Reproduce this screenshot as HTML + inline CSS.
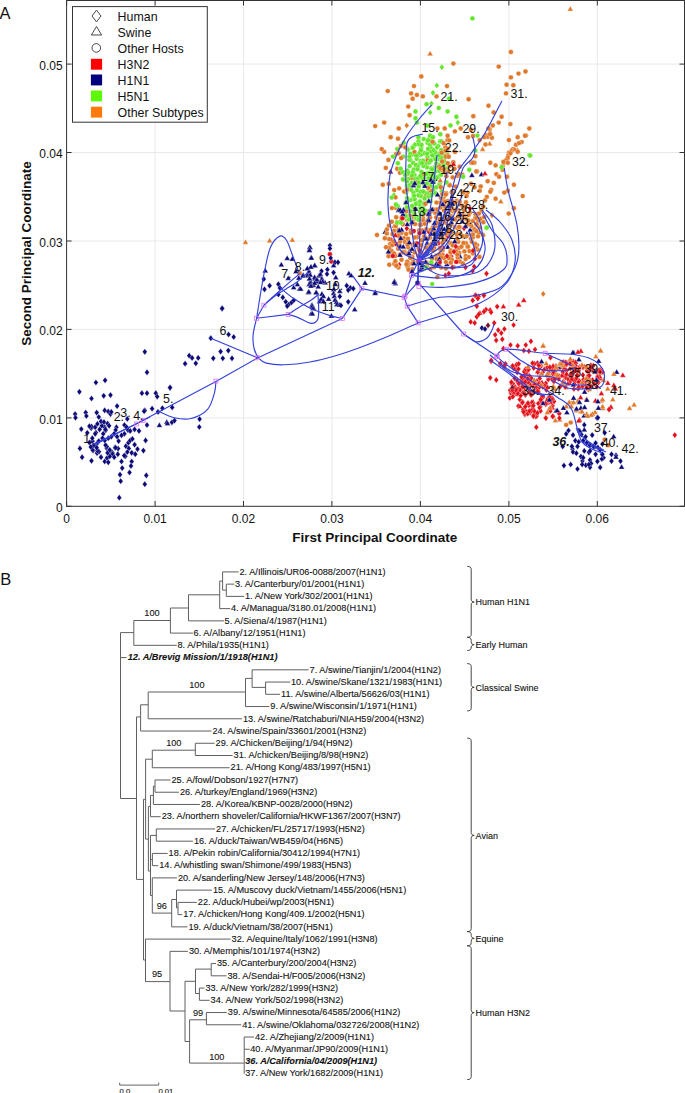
<!DOCTYPE html>
<html><head><meta charset="utf-8"><style>
html,body{margin:0;padding:0;background:#fff;}
svg{display:block;}
text{font-family:"Liberation Sans",sans-serif;fill:#111;}
.tk text{font-size:12px;}
.lg text{font-size:12.4px;}
.tr text{font-size:9.2px;fill:#111;stroke:#111;stroke-width:0.1px;}
.tr text.bi{font-weight:bold;font-style:italic;font-size:9.2px;}
.tr text.gl{font-size:9px;}
.tr text.sb{font-size:7.7px;}
.g{stroke:#e6e6e6;stroke-width:0.9;}
.nl text{font-size:12.4px;}
.nl text.bi{font-weight:bold;font-style:italic;}
</style></head><body>
<svg width="685" height="1093" viewBox="0 0 685 1093">
<defs>
<path id="dm" d="M0,-3.1L2.4,0L0,3.1L-2.4,0Z"/>
<path id="tm" d="M0,-2.7L2.9,2.3L-2.9,2.3Z"/>
<circle id="cm" r="2.45"/>
</defs>
<rect width="685" height="1093" fill="#fff"/>
<g><line x1="155.1" y1="0" x2="155.1" y2="506" class="g"/><line x1="243.5" y1="0" x2="243.5" y2="506" class="g"/><line x1="331.9" y1="0" x2="331.9" y2="506" class="g"/><line x1="420.4" y1="0" x2="420.4" y2="506" class="g"/><line x1="508.9" y1="0" x2="508.9" y2="506" class="g"/><line x1="597.3" y1="0" x2="597.3" y2="506" class="g"/><line x1="66.6" y1="417.9" x2="684.5" y2="417.9" class="g"/><line x1="66.6" y1="329.4" x2="684.5" y2="329.4" class="g"/><line x1="66.6" y1="241.0" x2="684.5" y2="241.0" class="g"/><line x1="66.6" y1="152.5" x2="684.5" y2="152.5" class="g"/><line x1="66.6" y1="64.1" x2="684.5" y2="64.1" class="g"/></g>
<g stroke="#fff" stroke-width="0.45" stroke-opacity="0.7"><use href="#dm" x="399.3" y="264.8" fill="#e3101a"/><use href="#cm" x="472.6" y="235.4" fill="#e0782a"/><use href="#cm" x="409.0" y="264.2" fill="#e0782a"/><use href="#cm" x="432.2" y="257.3" fill="#e0782a"/><use href="#cm" x="420.1" y="269.7" fill="#e0782a"/><use href="#cm" x="450.9" y="233.8" fill="#e0782a"/><use href="#cm" x="477.6" y="249.6" fill="#e0782a"/><use href="#cm" x="451.0" y="236.2" fill="#e0782a"/><use href="#cm" x="403.8" y="238.2" fill="#e0782a"/><use href="#cm" x="478.1" y="220.4" fill="#e0782a"/><use href="#cm" x="395.2" y="256.0" fill="#e0782a"/><use href="#cm" x="412.8" y="221.0" fill="#e0782a"/><use href="#cm" x="415.1" y="224.1" fill="#e0782a"/><use href="#cm" x="453.1" y="211.4" fill="#e0782a"/><use href="#cm" x="454.6" y="219.2" fill="#e0782a"/><use href="#cm" x="401.6" y="233.1" fill="#e0782a"/><use href="#cm" x="442.5" y="254.7" fill="#e0782a"/><use href="#dm" x="391.5" y="240.1" fill="#e3101a"/><use href="#cm" x="438.1" y="243.3" fill="#e3101a"/><use href="#cm" x="439.2" y="230.1" fill="#e0782a"/><use href="#cm" x="414.5" y="252.4" fill="#e0782a"/><use href="#cm" x="447.5" y="201.3" fill="#e0782a"/><use href="#cm" x="418.4" y="255.8" fill="#e0782a"/><use href="#cm" x="451.9" y="205.4" fill="#e0782a"/><use href="#dm" x="451.3" y="256.3" fill="#e3101a"/><use href="#cm" x="464.3" y="215.8" fill="#e0782a"/><use href="#cm" x="419.8" y="224.8" fill="#e0782a"/><use href="#cm" x="394.3" y="230.7" fill="#e0782a"/><use href="#cm" x="413.2" y="261.2" fill="#e0782a"/><use href="#cm" x="436.2" y="217.4" fill="#e0782a"/><use href="#cm" x="462.5" y="205.9" fill="#e0782a"/><use href="#dm" x="406.8" y="228.4" fill="#e3101a"/><use href="#cm" x="458.2" y="241.8" fill="#e0782a"/><use href="#cm" x="421.8" y="240.2" fill="#e0782a"/><use href="#cm" x="398.4" y="267.5" fill="#e0782a"/><use href="#cm" x="449.7" y="256.6" fill="#e0782a"/><use href="#cm" x="433.1" y="227.1" fill="#e0782a"/><use href="#cm" x="406.2" y="234.0" fill="#e0782a"/><use href="#cm" x="477.1" y="245.1" fill="#e0782a"/><use href="#cm" x="426.3" y="229.3" fill="#e0782a"/><use href="#cm" x="424.1" y="254.7" fill="#e0782a"/><use href="#cm" x="459.5" y="228.1" fill="#e0782a"/><use href="#cm" x="404.5" y="251.8" fill="#e0782a"/><use href="#cm" x="436.3" y="255.7" fill="#e0782a"/><use href="#cm" x="391.6" y="251.0" fill="#e0782a"/><use href="#cm" x="466.2" y="219.1" fill="#e0782a"/><use href="#cm" x="404.9" y="241.9" fill="#e0782a"/><use href="#cm" x="428.9" y="211.2" fill="#e0782a"/><use href="#tm" x="400.4" y="220.3" fill="#e0782a"/><use href="#cm" x="390.2" y="244.1" fill="#e0782a"/><use href="#tm" x="427.2" y="242.6" fill="#0c0a78"/><use href="#cm" x="456.9" y="234.4" fill="#e0782a"/><use href="#cm" x="399.8" y="254.8" fill="#e0782a"/><use href="#dm" x="464.0" y="228.3" fill="#e3101a"/><use href="#cm" x="473.0" y="220.9" fill="#e0782a"/><use href="#cm" x="428.9" y="216.3" fill="#e0782a"/><use href="#tm" x="439.1" y="213.7" fill="#0c0a78"/><use href="#cm" x="436.6" y="259.0" fill="#e0782a"/><use href="#cm" x="456.8" y="209.4" fill="#e0782a"/><use href="#cm" x="462.2" y="220.0" fill="#e0782a"/><use href="#cm" x="392.6" y="234.2" fill="#e0782a"/><use href="#cm" x="400.2" y="237.7" fill="#e0782a"/><use href="#cm" x="449.6" y="242.9" fill="#e0782a"/><use href="#cm" x="398.5" y="230.0" fill="#e0782a"/><use href="#cm" x="471.0" y="238.8" fill="#e0782a"/><use href="#cm" x="433.8" y="250.1" fill="#e0782a"/><use href="#cm" x="426.6" y="262.7" fill="#e0782a"/><use href="#cm" x="406.8" y="218.2" fill="#e0782a"/><use href="#dm" x="428.9" y="231.9" fill="#e3101a"/><use href="#cm" x="473.0" y="253.4" fill="#e0782a"/><use href="#cm" x="433.1" y="265.8" fill="#e0782a"/><use href="#cm" x="424.2" y="236.2" fill="#e0782a"/><use href="#cm" x="447.9" y="236.3" fill="#e3101a"/><use href="#cm" x="424.1" y="213.7" fill="#e0782a"/><use href="#cm" x="456.6" y="200.8" fill="#e0782a"/><use href="#cm" x="459.0" y="247.9" fill="#e0782a"/><use href="#tm" x="451.4" y="223.8" fill="#e0782a"/><use href="#cm" x="412.5" y="263.6" fill="#e0782a"/><use href="#cm" x="401.5" y="259.8" fill="#e0782a"/><use href="#cm" x="407.6" y="266.8" fill="#e0782a"/><use href="#tm" x="466.9" y="233.8" fill="#0c0a78"/><use href="#cm" x="427.2" y="251.0" fill="#e0782a"/><use href="#cm" x="412.3" y="257.0" fill="#e0782a"/><use href="#cm" x="451.0" y="216.2" fill="#e0782a"/><use href="#cm" x="389.2" y="247.9" fill="#e0782a"/><use href="#cm" x="413.0" y="231.7" fill="#e0782a"/><use href="#cm" x="474.6" y="231.5" fill="#e0782a"/><use href="#cm" x="412.7" y="244.7" fill="#e0782a"/><use href="#cm" x="414.3" y="243.7" fill="#e0782a"/><use href="#cm" x="434.2" y="247.7" fill="#e0782a"/><use href="#cm" x="430.5" y="269.0" fill="#e0782a"/><use href="#cm" x="412.4" y="269.1" fill="#e0782a"/><use href="#tm" x="421.1" y="268.9" fill="#0c0a78"/><use href="#cm" x="408.5" y="242.6" fill="#e0782a"/><use href="#cm" x="426.6" y="253.1" fill="#e0782a"/><use href="#cm" x="437.2" y="263.5" fill="#e0782a"/><use href="#cm" x="459.3" y="253.0" fill="#e0782a"/><use href="#cm" x="386.0" y="247.2" fill="#e0782a"/><use href="#cm" x="435.2" y="212.7" fill="#e0782a"/><use href="#cm" x="441.1" y="267.6" fill="#e0782a"/><use href="#cm" x="407.3" y="261.6" fill="#e0782a"/><use href="#cm" x="468.4" y="220.8" fill="#e0782a"/><use href="#cm" x="462.7" y="214.6" fill="#e0782a"/><use href="#tm" x="459.9" y="256.1" fill="#0c0a78"/><use href="#cm" x="459.4" y="213.6" fill="#e0782a"/><use href="#cm" x="470.1" y="224.8" fill="#e0782a"/><use href="#cm" x="465.9" y="243.3" fill="#e0782a"/><use href="#cm" x="445.6" y="222.5" fill="#e0782a"/><use href="#cm" x="442.6" y="199.0" fill="#e0782a"/><use href="#tm" x="447.8" y="246.8" fill="#0c0a78"/><use href="#cm" x="454.9" y="227.3" fill="#e0782a"/><use href="#cm" x="444.4" y="217.8" fill="#e0782a"/><use href="#cm" x="469.8" y="212.8" fill="#e0782a"/><use href="#cm" x="460.4" y="234.1" fill="#e0782a"/><use href="#cm" x="459.7" y="201.4" fill="#e0782a"/><use href="#cm" x="445.1" y="201.7" fill="#e0782a"/><use href="#cm" x="475.3" y="218.0" fill="#e0782a"/><use href="#cm" x="458.3" y="216.4" fill="#e0782a"/><use href="#cm" x="455.0" y="219.5" fill="#e0782a"/><use href="#cm" x="418.7" y="260.9" fill="#e0782a"/><use href="#cm" x="392.3" y="245.1" fill="#e0782a"/><use href="#tm" x="444.3" y="228.9" fill="#0c0a78"/><use href="#cm" x="388.6" y="256.2" fill="#e0782a"/><use href="#cm" x="444.1" y="258.0" fill="#e0782a"/><use href="#cm" x="430.1" y="245.2" fill="#e0782a"/><use href="#cm" x="427.3" y="220.8" fill="#e0782a"/><use href="#cm" x="396.6" y="265.5" fill="#e0782a"/><use href="#cm" x="417.0" y="243.4" fill="#e3101a"/><use href="#cm" x="402.9" y="224.3" fill="#e0782a"/><use href="#tm" x="409.7" y="250.8" fill="#0c0a78"/><use href="#cm" x="388.9" y="239.1" fill="#e0782a"/><use href="#cm" x="410.9" y="230.6" fill="#e0782a"/><use href="#cm" x="468.5" y="215.0" fill="#e0782a"/><use href="#cm" x="398.8" y="233.4" fill="#e0782a"/><use href="#dm" x="443.2" y="248.3" fill="#e3101a"/><use href="#cm" x="450.3" y="218.0" fill="#e0782a"/><use href="#cm" x="467.8" y="247.3" fill="#e0782a"/><use href="#cm" x="442.5" y="223.1" fill="#e0782a"/><use href="#cm" x="466.4" y="236.2" fill="#e0782a"/><use href="#cm" x="436.9" y="237.4" fill="#e0782a"/><use href="#cm" x="455.0" y="202.6" fill="#e0782a"/><use href="#cm" x="475.6" y="247.5" fill="#e0782a"/><use href="#cm" x="453.5" y="267.1" fill="#e0782a"/><use href="#cm" x="391.7" y="221.8" fill="#e0782a"/><use href="#cm" x="432.0" y="243.6" fill="#e0782a"/><use href="#cm" x="462.6" y="236.2" fill="#e0782a"/><use href="#cm" x="408.5" y="269.7" fill="#e0782a"/><use href="#cm" x="405.9" y="253.4" fill="#e0782a"/><use href="#cm" x="440.7" y="223.8" fill="#e0782a"/><use href="#cm" x="426.8" y="266.3" fill="#e0782a"/><use href="#cm" x="422.8" y="262.7" fill="#e0782a"/><use href="#cm" x="418.0" y="261.9" fill="#e0782a"/><use href="#cm" x="423.0" y="218.1" fill="#e0782a"/><use href="#cm" x="463.4" y="243.0" fill="#e0782a"/><use href="#cm" x="408.1" y="247.2" fill="#e0782a"/><use href="#cm" x="435.6" y="226.2" fill="#e0782a"/><use href="#cm" x="459.9" y="261.5" fill="#e0782a"/><use href="#cm" x="418.8" y="248.4" fill="#e0782a"/><use href="#cm" x="396.5" y="244.2" fill="#e3101a"/><use href="#cm" x="398.1" y="248.8" fill="#e0782a"/><use href="#cm" x="479.9" y="227.6" fill="#e0782a"/><use href="#cm" x="430.7" y="230.0" fill="#e0782a"/><use href="#cm" x="407.5" y="244.7" fill="#e0782a"/><use href="#cm" x="479.1" y="233.1" fill="#e0782a"/><use href="#cm" x="456.3" y="261.9" fill="#e3101a"/><use href="#cm" x="437.6" y="222.6" fill="#e0782a"/><use href="#cm" x="388.9" y="225.7" fill="#e0782a"/><use href="#cm" x="411.8" y="220.9" fill="#e0782a"/><use href="#cm" x="445.3" y="239.8" fill="#e0782a"/><use href="#cm" x="440.3" y="202.7" fill="#e0782a"/><use href="#cm" x="452.3" y="208.9" fill="#e0782a"/><use href="#cm" x="450.7" y="250.4" fill="#e0782a"/><use href="#cm" x="451.8" y="259.8" fill="#e0782a"/><use href="#tm" x="394.1" y="225.6" fill="#e0782a"/><use href="#cm" x="434.2" y="267.0" fill="#e0782a"/><use href="#tm" x="401.6" y="229.4" fill="#0c0a78"/><use href="#dm" x="470.0" y="208.4" fill="#e3101a"/><use href="#cm" x="475.6" y="214.2" fill="#e0782a"/><use href="#cm" x="420.9" y="252.3" fill="#e0782a"/><use href="#cm" x="419.2" y="230.5" fill="#e0782a"/><use href="#cm" x="422.8" y="220.4" fill="#e0782a"/><use href="#cm" x="443.9" y="196.5" fill="#e0782a"/><use href="#cm" x="399.9" y="246.3" fill="#e0782a"/><use href="#cm" x="432.0" y="258.7" fill="#e0782a"/><use href="#dm" x="419.6" y="250.5" fill="#e3101a"/><use href="#cm" x="464.4" y="251.4" fill="#e0782a"/><use href="#cm" x="464.2" y="210.3" fill="#e0782a"/><use href="#cm" x="430.1" y="237.7" fill="#e0782a"/><use href="#cm" x="445.9" y="268.5" fill="#e0782a"/><use href="#tm" x="446.9" y="264.0" fill="#0c0a78"/><use href="#cm" x="394.3" y="263.9" fill="#e0782a"/><use href="#cm" x="451.6" y="243.4" fill="#e0782a"/><use href="#cm" x="397.0" y="222.3" fill="#e0782a"/><use href="#cm" x="442.5" y="250.4" fill="#e0782a"/><use href="#cm" x="466.8" y="224.4" fill="#e0782a"/><use href="#tm" x="385.1" y="231.7" fill="#0c0a78"/><use href="#cm" x="422.3" y="230.4" fill="#e0782a"/><use href="#cm" x="440.8" y="250.3" fill="#e0782a"/><use href="#cm" x="436.8" y="209.5" fill="#e0782a"/><use href="#tm" x="470.2" y="229.4" fill="#0c0a78"/><use href="#cm" x="428.3" y="238.5" fill="#e0782a"/><use href="#cm" x="400.1" y="241.7" fill="#e0782a"/><use href="#cm" x="435.8" y="243.5" fill="#e0782a"/><use href="#cm" x="402.7" y="252.3" fill="#e0782a"/><use href="#cm" x="411.7" y="217.5" fill="#e0782a"/><use href="#cm" x="429.4" y="221.0" fill="#e0782a"/><use href="#cm" x="439.8" y="219.2" fill="#e0782a"/><use href="#cm" x="477.2" y="224.9" fill="#e0782a"/><use href="#cm" x="430.0" y="217.5" fill="#e0782a"/><use href="#tm" x="431.0" y="233.6" fill="#0c0a78"/><use href="#cm" x="393.9" y="241.5" fill="#e0782a"/><use href="#cm" x="465.6" y="206.7" fill="#e0782a"/><use href="#cm" x="465.8" y="256.1" fill="#e0782a"/><use href="#cm" x="417.2" y="237.3" fill="#e0782a"/><use href="#cm" x="421.0" y="245.2" fill="#e0782a"/><use href="#cm" x="439.2" y="254.5" fill="#e0782a"/><use href="#cm" x="440.1" y="248.0" fill="#e0782a"/><use href="#cm" x="449.0" y="233.5" fill="#e0782a"/><use href="#cm" x="399.0" y="246.1" fill="#e0782a"/><use href="#cm" x="469.5" y="251.1" fill="#e0782a"/><use href="#tm" x="388.4" y="251.5" fill="#0c0a78"/><use href="#cm" x="411.5" y="223.5" fill="#e0782a"/><use href="#cm" x="442.4" y="242.9" fill="#e0782a"/><use href="#cm" x="448.8" y="205.1" fill="#e0782a"/><use href="#cm" x="434.4" y="231.3" fill="#e0782a"/><use href="#tm" x="407.3" y="223.9" fill="#0c0a78"/><use href="#cm" x="459.5" y="202.2" fill="#e0782a"/><use href="#cm" x="396.2" y="217.3" fill="#e0782a"/><use href="#cm" x="457.0" y="238.8" fill="#e0782a"/><use href="#tm" x="418.9" y="218.8" fill="#0c0a78"/><use href="#cm" x="445.9" y="262.1" fill="#e0782a"/><use href="#cm" x="452.7" y="245.4" fill="#e0782a"/><use href="#cm" x="408.0" y="238.8" fill="#e0782a"/><use href="#cm" x="471.9" y="234.7" fill="#e0782a"/><use href="#cm" x="472.8" y="237.4" fill="#e0782a"/><use href="#cm" x="398.5" y="236.0" fill="#e0782a"/><use href="#tm" x="441.6" y="218.6" fill="#0c0a78"/><use href="#cm" x="394.0" y="253.4" fill="#e0782a"/><use href="#cm" x="444.0" y="210.4" fill="#e0782a"/><use href="#tm" x="425.6" y="261.6" fill="#0c0a78"/><use href="#cm" x="436.5" y="202.6" fill="#e0782a"/><use href="#cm" x="461.5" y="246.7" fill="#e0782a"/><use href="#cm" x="432.7" y="250.1" fill="#e0782a"/><use href="#cm" x="447.7" y="219.5" fill="#e0782a"/><use href="#cm" x="475.0" y="243.8" fill="#e0782a"/><use href="#cm" x="441.2" y="257.4" fill="#e0782a"/><use href="#tm" x="423.8" y="231.8" fill="#0c0a78"/><use href="#cm" x="449.1" y="230.3" fill="#e0782a"/><use href="#cm" x="467.9" y="246.5" fill="#e0782a"/><use href="#cm" x="419.5" y="233.2" fill="#e3101a"/><use href="#cm" x="395.3" y="261.2" fill="#e0782a"/><use href="#cm" x="452.0" y="201.0" fill="#e0782a"/><use href="#cm" x="442.0" y="237.2" fill="#e0782a"/><use href="#cm" x="401.7" y="217.6" fill="#e0782a"/><use href="#cm" x="421.1" y="224.7" fill="#e0782a"/><use href="#cm" x="450.7" y="262.7" fill="#e0782a"/><use href="#cm" x="473.6" y="250.4" fill="#e0782a"/><use href="#cm" x="431.1" y="211.2" fill="#e0782a"/><use href="#cm" x="413.7" y="231.1" fill="#e3101a"/><use href="#cm" x="450.6" y="209.5" fill="#e0782a"/><use href="#cm" x="445.6" y="234.1" fill="#e0782a"/><use href="#cm" x="462.8" y="263.4" fill="#e0782a"/><use href="#cm" x="458.1" y="228.4" fill="#e0782a"/><use href="#cm" x="468.7" y="257.1" fill="#e0782a"/><use href="#tm" x="440.9" y="233.6" fill="#0c0a78"/><use href="#cm" x="465.6" y="259.1" fill="#e0782a"/><use href="#tm" x="434.5" y="233.8" fill="#0c0a78"/><use href="#cm" x="456.0" y="251.2" fill="#e0782a"/><use href="#cm" x="386.8" y="233.6" fill="#e0782a"/><use href="#cm" x="450.5" y="252.3" fill="#e0782a"/><use href="#tm" x="407.2" y="219.5" fill="#e0782a"/><use href="#cm" x="424.9" y="223.8" fill="#e0782a"/><use href="#cm" x="448.6" y="225.4" fill="#e0782a"/><use href="#cm" x="406.5" y="264.2" fill="#e0782a"/><use href="#cm" x="457.7" y="257.5" fill="#e0782a"/><use href="#cm" x="422.9" y="257.7" fill="#e0782a"/><use href="#cm" x="414.7" y="237.5" fill="#e0782a"/><use href="#cm" x="448.8" y="258.1" fill="#e0782a"/><use href="#cm" x="440.4" y="207.4" fill="#e0782a"/><use href="#cm" x="457.3" y="254.6" fill="#e0782a"/><use href="#cm" x="478.0" y="236.4" fill="#e0782a"/><use href="#cm" x="471.8" y="241.9" fill="#e0782a"/><use href="#cm" x="455.0" y="210.6" fill="#e0782a"/><use href="#cm" x="459.5" y="227.0" fill="#e0782a"/><use href="#cm" x="450.1" y="210.2" fill="#e0782a"/><use href="#cm" x="410.2" y="257.9" fill="#e0782a"/><use href="#cm" x="440.9" y="197.7" fill="#e0782a"/><use href="#cm" x="425.9" y="247.5" fill="#e0782a"/><use href="#cm" x="408.3" y="253.6" fill="#e0782a"/><use href="#cm" x="444.7" y="206.1" fill="#e0782a"/><use href="#cm" x="395.8" y="226.1" fill="#e0782a"/><use href="#tm" x="472.2" y="226.0" fill="#e0782a"/><use href="#cm" x="433.0" y="209.5" fill="#e0782a"/><use href="#cm" x="438.7" y="264.9" fill="#e0782a"/><use href="#cm" x="384.8" y="238.3" fill="#e0782a"/><use href="#cm" x="459.2" y="226.9" fill="#e0782a"/><use href="#cm" x="410.7" y="232.8" fill="#e0782a"/><use href="#cm" x="386.9" y="229.5" fill="#e0782a"/><use href="#cm" x="421.2" y="147.7" fill="#64e62a"/><use href="#cm" x="426.9" y="167.2" fill="#64e62a"/><use href="#cm" x="431.2" y="168.5" fill="#64e62a"/><use href="#cm" x="423.8" y="183.6" fill="#64e62a"/><use href="#cm" x="420.9" y="196.1" fill="#64e62a"/><use href="#cm" x="406.9" y="186.1" fill="#64e62a"/><use href="#cm" x="431.0" y="140.7" fill="#64e62a"/><use href="#dm" x="418.0" y="195.2" fill="#64e62a"/><use href="#dm" x="423.9" y="205.3" fill="#64e62a"/><use href="#cm" x="425.7" y="196.4" fill="#e0782a"/><use href="#cm" x="414.4" y="174.9" fill="#64e62a"/><use href="#cm" x="414.1" y="185.0" fill="#64e62a"/><use href="#cm" x="438.4" y="176.7" fill="#64e62a"/><use href="#cm" x="431.2" y="178.4" fill="#64e62a"/><use href="#cm" x="409.9" y="184.9" fill="#64e62a"/><use href="#cm" x="410.0" y="219.2" fill="#64e62a"/><use href="#cm" x="409.4" y="211.2" fill="#64e62a"/><use href="#cm" x="416.9" y="203.2" fill="#64e62a"/><use href="#cm" x="433.3" y="189.8" fill="#64e62a"/><use href="#cm" x="420.5" y="161.1" fill="#64e62a"/><use href="#cm" x="412.1" y="154.6" fill="#64e62a"/><use href="#cm" x="423.8" y="203.4" fill="#64e62a"/><use href="#cm" x="440.0" y="141.4" fill="#64e62a"/><use href="#cm" x="414.8" y="178.8" fill="#64e62a"/><use href="#cm" x="416.0" y="208.9" fill="#64e62a"/><use href="#cm" x="417.0" y="190.3" fill="#64e62a"/><use href="#cm" x="413.5" y="146.7" fill="#64e62a"/><use href="#cm" x="413.3" y="211.7" fill="#64e62a"/><use href="#cm" x="409.7" y="215.8" fill="#e0782a"/><use href="#cm" x="436.2" y="163.7" fill="#64e62a"/><use href="#cm" x="441.5" y="164.5" fill="#64e62a"/><use href="#cm" x="439.7" y="183.7" fill="#64e62a"/><use href="#cm" x="416.7" y="158.8" fill="#64e62a"/><use href="#cm" x="427.5" y="201.9" fill="#64e62a"/><use href="#cm" x="446.2" y="172.9" fill="#e0782a"/><use href="#cm" x="427.5" y="142.8" fill="#64e62a"/><use href="#dm" x="411.7" y="199.7" fill="#64e62a"/><use href="#cm" x="428.5" y="178.0" fill="#64e62a"/><use href="#cm" x="420.5" y="191.7" fill="#64e62a"/><use href="#cm" x="427.5" y="157.0" fill="#64e62a"/><use href="#cm" x="445.3" y="155.2" fill="#64e62a"/><use href="#cm" x="418.8" y="155.3" fill="#64e62a"/><use href="#cm" x="407.3" y="174.2" fill="#e0782a"/><use href="#cm" x="441.2" y="150.1" fill="#64e62a"/><use href="#cm" x="414.4" y="152.0" fill="#e0782a"/><use href="#cm" x="445.8" y="168.8" fill="#64e62a"/><use href="#cm" x="418.5" y="141.3" fill="#64e62a"/><use href="#cm" x="420.5" y="207.8" fill="#64e62a"/><use href="#cm" x="421.7" y="213.4" fill="#64e62a"/><use href="#cm" x="430.0" y="145.1" fill="#64e62a"/><use href="#cm" x="410.3" y="159.7" fill="#64e62a"/><use href="#cm" x="410.9" y="178.2" fill="#e0782a"/><use href="#cm" x="433.9" y="181.9" fill="#64e62a"/><use href="#cm" x="409.7" y="166.1" fill="#64e62a"/><use href="#cm" x="439.3" y="185.5" fill="#64e62a"/><use href="#cm" x="443.5" y="153.8" fill="#64e62a"/><use href="#cm" x="426.4" y="163.2" fill="#64e62a"/><use href="#cm" x="439.5" y="165.0" fill="#64e62a"/><use href="#cm" x="439.0" y="153.7" fill="#64e62a"/><use href="#cm" x="419.5" y="204.1" fill="#64e62a"/><use href="#cm" x="414.5" y="214.5" fill="#64e62a"/><use href="#cm" x="434.0" y="175.4" fill="#64e62a"/><use href="#cm" x="405.7" y="203.0" fill="#64e62a"/><use href="#cm" x="431.2" y="183.0" fill="#64e62a"/><use href="#cm" x="415.1" y="144.7" fill="#64e62a"/><use href="#cm" x="436.0" y="171.1" fill="#64e62a"/><use href="#cm" x="413.1" y="162.9" fill="#64e62a"/><use href="#cm" x="434.4" y="155.8" fill="#64e62a"/><use href="#cm" x="444.1" y="161.0" fill="#64e62a"/><use href="#cm" x="417.3" y="218.7" fill="#64e62a"/><use href="#cm" x="441.3" y="170.2" fill="#64e62a"/><use href="#cm" x="435.3" y="152.4" fill="#64e62a"/><use href="#dm" x="410.7" y="210.9" fill="#64e62a"/><use href="#cm" x="424.6" y="198.4" fill="#64e62a"/><use href="#cm" x="416.2" y="166.6" fill="#64e62a"/><use href="#cm" x="430.7" y="174.5" fill="#64e62a"/><use href="#cm" x="419.9" y="201.5" fill="#64e62a"/><use href="#cm" x="441.0" y="160.0" fill="#64e62a"/><use href="#cm" x="428.6" y="172.9" fill="#64e62a"/><use href="#cm" x="421.6" y="154.4" fill="#64e62a"/><use href="#cm" x="418.0" y="178.4" fill="#64e62a"/><use href="#cm" x="429.0" y="196.6" fill="#64e62a"/><use href="#cm" x="420.0" y="211.6" fill="#64e62a"/><use href="#dm" x="416.1" y="218.2" fill="#64e62a"/><use href="#cm" x="422.8" y="210.6" fill="#64e62a"/><use href="#cm" x="437.7" y="159.1" fill="#64e62a"/><use href="#cm" x="413.4" y="192.6" fill="#64e62a"/><use href="#cm" x="427.5" y="160.4" fill="#e0782a"/><use href="#cm" x="427.4" y="193.2" fill="#64e62a"/><use href="#dm" x="419.4" y="152.7" fill="#64e62a"/><use href="#cm" x="430.7" y="190.7" fill="#e0782a"/><use href="#cm" x="421.5" y="171.9" fill="#64e62a"/><use href="#cm" x="423.4" y="165.9" fill="#64e62a"/><use href="#cm" x="405.3" y="191.5" fill="#64e62a"/><use href="#cm" x="417.1" y="182.4" fill="#e0782a"/><use href="#cm" x="423.7" y="139.1" fill="#64e62a"/><use href="#cm" x="411.1" y="189.8" fill="#64e62a"/><use href="#cm" x="425.1" y="210.7" fill="#64e62a"/><use href="#cm" x="418.8" y="217.5" fill="#64e62a"/><use href="#cm" x="410.2" y="153.7" fill="#64e62a"/><use href="#cm" x="418.9" y="144.2" fill="#64e62a"/><use href="#cm" x="408.2" y="179.1" fill="#64e62a"/><use href="#cm" x="422.6" y="176.4" fill="#e0782a"/><use href="#cm" x="442.8" y="166.6" fill="#e0782a"/><use href="#cm" x="444.4" y="165.0" fill="#64e62a"/><use href="#cm" x="425.5" y="203.8" fill="#e0782a"/><use href="#cm" x="414.6" y="199.2" fill="#64e62a"/><use href="#cm" x="422.3" y="178.3" fill="#64e62a"/><use href="#cm" x="410.0" y="200.1" fill="#64e62a"/><use href="#cm" x="420.4" y="176.0" fill="#64e62a"/><use href="#cm" x="430.7" y="148.3" fill="#64e62a"/><use href="#cm" x="431.4" y="195.0" fill="#64e62a"/><use href="#cm" x="441.1" y="174.7" fill="#64e62a"/><use href="#cm" x="415.9" y="164.9" fill="#64e62a"/><use href="#cm" x="429.3" y="138.5" fill="#64e62a"/><use href="#cm" x="437.8" y="167.1" fill="#64e62a"/><use href="#cm" x="428.3" y="188.4" fill="#64e62a"/><use href="#cm" x="413.7" y="169.7" fill="#64e62a"/><use href="#cm" x="412.6" y="147.8" fill="#64e62a"/><use href="#cm" x="423.1" y="160.8" fill="#64e62a"/><use href="#cm" x="420.3" y="163.3" fill="#64e62a"/><use href="#dm" x="418.0" y="166.7" fill="#64e62a"/><use href="#cm" x="406.2" y="192.6" fill="#64e62a"/><use href="#cm" x="434.9" y="167.3" fill="#64e62a"/><use href="#cm" x="435.3" y="159.1" fill="#64e62a"/><use href="#dm" x="406.7" y="207.2" fill="#64e62a"/><use href="#cm" x="429.3" y="162.5" fill="#64e62a"/><use href="#cm" x="430.7" y="185.9" fill="#64e62a"/><use href="#cm" x="435.4" y="193.2" fill="#64e62a"/><use href="#cm" x="406.8" y="181.4" fill="#64e62a"/><use href="#cm" x="418.7" y="186.4" fill="#64e62a"/><use href="#cm" x="407.7" y="200.5" fill="#64e62a"/><use href="#cm" x="430.5" y="201.4" fill="#64e62a"/><use href="#cm" x="436.0" y="187.4" fill="#64e62a"/><use href="#cm" x="421.5" y="144.8" fill="#64e62a"/><use href="#cm" x="430.9" y="151.6" fill="#64e62a"/><use href="#cm" x="432.3" y="169.4" fill="#64e62a"/><use href="#cm" x="421.0" y="150.3" fill="#64e62a"/><use href="#cm" x="435.0" y="177.2" fill="#64e62a"/><use href="#cm" x="436.7" y="177.9" fill="#64e62a"/><use href="#cm" x="424.8" y="192.9" fill="#64e62a"/><use href="#cm" x="432.3" y="155.5" fill="#64e62a"/><use href="#cm" x="412.6" y="172.5" fill="#64e62a"/><use href="#cm" x="428.0" y="140.4" fill="#64e62a"/><use href="#cm" x="417.5" y="169.3" fill="#64e62a"/><use href="#cm" x="422.1" y="163.2" fill="#64e62a"/><use href="#cm" x="423.2" y="191.5" fill="#64e62a"/><use href="#cm" x="434.2" y="143.5" fill="#64e62a"/><use href="#cm" x="438.1" y="146.3" fill="#64e62a"/><use href="#cm" x="424.6" y="185.1" fill="#64e62a"/><use href="#cm" x="441.5" y="141.5" fill="#64e62a"/><use href="#cm" x="443.7" y="143.3" fill="#e0782a"/><use href="#cm" x="424.8" y="153.2" fill="#64e62a"/><use href="#cm" x="426.9" y="183.5" fill="#64e62a"/><use href="#cm" x="407.5" y="170.8" fill="#64e62a"/><use href="#cm" x="416.2" y="155.6" fill="#64e62a"/><use href="#cm" x="406.9" y="207.6" fill="#64e62a"/><use href="#cm" x="446.5" y="149.2" fill="#64e62a"/><use href="#cm" x="412.1" y="182.9" fill="#64e62a"/><use href="#cm" x="439.2" y="170.9" fill="#64e62a"/><use href="#cm" x="407.6" y="188.4" fill="#64e62a"/><use href="#cm" x="441.3" y="157.7" fill="#64e62a"/><use href="#cm" x="415.6" y="204.1" fill="#64e62a"/><use href="#cm" x="446.9" y="151.7" fill="#64e62a"/><use href="#cm" x="409.4" y="159.8" fill="#64e62a"/><use href="#cm" x="428.2" y="188.0" fill="#e0782a"/><use href="#cm" x="412.0" y="175.6" fill="#64e62a"/><use href="#cm" x="407.1" y="198.1" fill="#64e62a"/><use href="#cm" x="428.1" y="148.9" fill="#64e62a"/><use href="#dm" x="436.9" y="147.6" fill="#64e62a"/><use href="#cm" x="427.1" y="153.7" fill="#64e62a"/><use href="#cm" x="412.2" y="206.0" fill="#64e62a"/><use href="#cm" x="418.8" y="182.5" fill="#64e62a"/><use href="#cm" x="438.8" y="155.4" fill="#64e62a"/><use href="#cm" x="430.8" y="160.5" fill="#64e62a"/><use href="#cm" x="408.6" y="219.4" fill="#64e62a"/><use href="#dm" x="433.5" y="150.1" fill="#64e62a"/><use href="#cm" x="414.0" y="195.8" fill="#64e62a"/><use href="#cm" x="426.7" y="173.8" fill="#64e62a"/><use href="#cm" x="432.6" y="141.7" fill="#e0782a"/><use href="#cm" x="409.4" y="156.7" fill="#64e62a"/><use href="#cm" x="418.7" y="219.9" fill="#64e62a"/><use href="#cm" x="400.4" y="210.9" fill="#e0782a"/><use href="#cm" x="395.8" y="207.8" fill="#e0782a"/><use href="#cm" x="403.2" y="156.6" fill="#64e62a"/><use href="#cm" x="397.7" y="206.2" fill="#64e62a"/><use href="#cm" x="400.0" y="172.8" fill="#e0782a"/><use href="#cm" x="406.3" y="216.3" fill="#64e62a"/><use href="#cm" x="404.1" y="191.6" fill="#e0782a"/><use href="#cm" x="394.2" y="190.1" fill="#e0782a"/><use href="#cm" x="402.8" y="172.1" fill="#64e62a"/><use href="#cm" x="406.2" y="211.4" fill="#e0782a"/><use href="#cm" x="397.1" y="222.8" fill="#64e62a"/><use href="#cm" x="405.5" y="215.7" fill="#64e62a"/><use href="#cm" x="401.1" y="222.7" fill="#64e62a"/><use href="#cm" x="397.2" y="168.8" fill="#e0782a"/><use href="#dm" x="393.9" y="195.1" fill="#64e62a"/><use href="#cm" x="401.1" y="158.1" fill="#e0782a"/><use href="#cm" x="408.3" y="172.9" fill="#64e62a"/><use href="#cm" x="405.1" y="175.1" fill="#64e62a"/><use href="#cm" x="395.5" y="197.4" fill="#e0782a"/><use href="#cm" x="396.2" y="153.9" fill="#e0782a"/><use href="#dm" x="408.2" y="149.6" fill="#64e62a"/><use href="#cm" x="403.7" y="179.4" fill="#e0782a"/><use href="#cm" x="397.8" y="163.3" fill="#64e62a"/><use href="#cm" x="393.0" y="156.6" fill="#64e62a"/><use href="#cm" x="406.8" y="189.9" fill="#e0782a"/><use href="#cm" x="391.9" y="208.1" fill="#e0782a"/><use href="#cm" x="403.1" y="179.5" fill="#64e62a"/><use href="#cm" x="391.7" y="197.6" fill="#64e62a"/><use href="#cm" x="400.6" y="168.7" fill="#64e62a"/><use href="#cm" x="395.9" y="204.5" fill="#64e62a"/><use href="#cm" x="385.8" y="167.9" fill="#e0782a"/><use href="#cm" x="388.4" y="160.0" fill="#e0782a"/><use href="#cm" x="382.8" y="184.8" fill="#e0782a"/><use href="#cm" x="384.1" y="151.9" fill="#e0782a"/><use href="#cm" x="397.3" y="149.1" fill="#64e62a"/><use href="#cm" x="403.7" y="142.9" fill="#64e62a"/><use href="#cm" x="399.2" y="188.4" fill="#e0782a"/><use href="#cm" x="388.7" y="183.9" fill="#e0782a"/><use href="#cm" x="381.7" y="149.1" fill="#e0782a"/><use href="#cm" x="398.6" y="153.3" fill="#e0782a"/><use href="#cm" x="446.3" y="182.5" fill="#e0782a"/><use href="#cm" x="445.4" y="147.6" fill="#e0782a"/><use href="#cm" x="455.0" y="151.9" fill="#e0782a"/><use href="#cm" x="451.8" y="192.4" fill="#e0782a"/><use href="#cm" x="442.7" y="194.6" fill="#64e62a"/><use href="#cm" x="463.8" y="191.7" fill="#e0782a"/><use href="#cm" x="446.2" y="193.2" fill="#e0782a"/><use href="#cm" x="462.2" y="174.7" fill="#e0782a"/><use href="#cm" x="449.7" y="165.9" fill="#e0782a"/><use href="#cm" x="441.8" y="191.3" fill="#64e62a"/><use href="#cm" x="455.7" y="186.6" fill="#e0782a"/><use href="#cm" x="459.7" y="166.8" fill="#e0782a"/><use href="#cm" x="444.5" y="172.0" fill="#e0782a"/><use href="#cm" x="452.7" y="177.4" fill="#e0782a"/><use href="#cm" x="442.2" y="169.9" fill="#e0782a"/><use href="#cm" x="445.5" y="150.6" fill="#e0782a"/><use href="#tm" x="440.3" y="180.3" fill="#e0782a"/><use href="#tm" x="450.5" y="184.7" fill="#e3101a"/><use href="#cm" x="463.8" y="192.5" fill="#e0782a"/><use href="#cm" x="443.1" y="164.9" fill="#64e62a"/><use href="#cm" x="444.5" y="193.5" fill="#e0782a"/><use href="#cm" x="457.8" y="175.8" fill="#e0782a"/><use href="#cm" x="449.5" y="185.3" fill="#e0782a"/><use href="#cm" x="447.5" y="148.7" fill="#e0782a"/><use href="#cm" x="441.6" y="152.7" fill="#e0782a"/><use href="#cm" x="458.6" y="174.1" fill="#e0782a"/><use href="#cm" x="439.2" y="166.6" fill="#e0782a"/><use href="#cm" x="447.6" y="155.5" fill="#e0782a"/><use href="#cm" x="440.5" y="168.5" fill="#e0782a"/><use href="#tm" x="448.7" y="170.3" fill="#e0782a"/><use href="#cm" x="454.5" y="168.8" fill="#e0782a"/><use href="#cm" x="447.5" y="140.1" fill="#e0782a"/><use href="#cm" x="446.3" y="182.5" fill="#64e62a"/><use href="#cm" x="446.3" y="176.2" fill="#e0782a"/><use href="#cm" x="445.8" y="156.7" fill="#e0782a"/><use href="#cm" x="449.2" y="140.5" fill="#e0782a"/><use href="#cm" x="440.8" y="187.3" fill="#e0782a"/><use href="#cm" x="444.1" y="169.2" fill="#e0782a"/><use href="#cm" x="448.7" y="156.8" fill="#e0782a"/><use href="#cm" x="442.4" y="194.1" fill="#e0782a"/><use href="#cm" x="447.7" y="163.2" fill="#e0782a"/><use href="#cm" x="442.1" y="161.5" fill="#e0782a"/><use href="#cm" x="466.0" y="202.3" fill="#e0782a"/><use href="#cm" x="445.9" y="194.4" fill="#e0782a"/><use href="#cm" x="453.3" y="162.2" fill="#e0782a"/><use href="#tm" x="400.3" y="246.3" fill="#0c0a78"/><use href="#tm" x="412.0" y="248.6" fill="#0c0a78"/><use href="#tm" x="415.6" y="244.9" fill="#0c0a78"/><use href="#tm" x="452.6" y="203.6" fill="#0c0a78"/><use href="#tm" x="462.3" y="221.1" fill="#0c0a78"/><use href="#tm" x="454.7" y="241.1" fill="#0c0a78"/><use href="#tm" x="435.0" y="243.5" fill="#0c0a78"/><use href="#tm" x="442.8" y="204.0" fill="#0c0a78"/><use href="#tm" x="398.5" y="209.9" fill="#0c0a78"/><use href="#tm" x="423.5" y="267.3" fill="#0c0a78"/><use href="#tm" x="439.4" y="258.7" fill="#0c0a78"/><use href="#tm" x="400.7" y="238.0" fill="#0c0a78"/><use href="#tm" x="406.1" y="201.9" fill="#0c0a78"/><use href="#tm" x="432.1" y="209.2" fill="#0c0a78"/><use href="#tm" x="409.0" y="253.3" fill="#0c0a78"/><use href="#tm" x="400.0" y="254.7" fill="#0c0a78"/><use href="#tm" x="449.7" y="203.3" fill="#0c0a78"/><use href="#tm" x="399.3" y="230.1" fill="#0c0a78"/><use href="#tm" x="433.7" y="228.2" fill="#0c0a78"/><use href="#tm" x="426.1" y="238.5" fill="#0c0a78"/><use href="#tm" x="429.0" y="212.2" fill="#0c0a78"/><use href="#tm" x="403.2" y="246.4" fill="#0c0a78"/><use href="#tm" x="465.6" y="225.9" fill="#0c0a78"/><use href="#tm" x="436.4" y="263.6" fill="#0c0a78"/><use href="#tm" x="415.6" y="208.8" fill="#0c0a78"/><use href="#tm" x="428.6" y="213.7" fill="#0c0a78"/><use href="#tm" x="414.0" y="263.3" fill="#0c0a78"/><use href="#tm" x="403.4" y="209.5" fill="#0c0a78"/><use href="#tm" x="460.1" y="214.3" fill="#0c0a78"/><use href="#tm" x="439.1" y="262.0" fill="#0c0a78"/><use href="#tm" x="451.4" y="221.9" fill="#0c0a78"/><use href="#tm" x="438.5" y="263.8" fill="#0c0a78"/><use href="#tm" x="431.6" y="256.4" fill="#0c0a78"/><use href="#tm" x="422.0" y="265.1" fill="#0c0a78"/><use href="#tm" x="452.3" y="218.0" fill="#0c0a78"/><use href="#tm" x="439.8" y="213.1" fill="#0c0a78"/><use href="#tm" x="428.6" y="219.8" fill="#0c0a78"/><use href="#tm" x="400.1" y="209.6" fill="#0c0a78"/><use href="#tm" x="403.0" y="213.9" fill="#0c0a78"/><use href="#tm" x="434.5" y="222.8" fill="#0c0a78"/><use href="#tm" x="412.0" y="221.9" fill="#0c0a78"/><use href="#tm" x="402.1" y="211.2" fill="#0c0a78"/><use href="#tm" x="448.6" y="205.7" fill="#0c0a78"/><use href="#tm" x="409.3" y="242.2" fill="#0c0a78"/><use href="#tm" x="419.6" y="263.1" fill="#0c0a78"/><use href="#tm" x="430.8" y="179.7" fill="#0c0a78"/><use href="#tm" x="428.8" y="200.7" fill="#0c0a78"/><use href="#tm" x="413.4" y="185.1" fill="#0c0a78"/><use href="#tm" x="414.8" y="182.9" fill="#0c0a78"/><use href="#tm" x="432.9" y="181.7" fill="#0c0a78"/><use href="#tm" x="422.9" y="181.9" fill="#0c0a78"/><use href="#tm" x="424.8" y="185.8" fill="#0c0a78"/><use href="#tm" x="437.6" y="194.4" fill="#0c0a78"/><use href="#dm" x="537.0" y="381.0" fill="#e3101a"/><use href="#tm" x="561.8" y="367.3" fill="#e3101a"/><use href="#dm" x="587.8" y="375.9" fill="#e3101a"/><use href="#dm" x="553.3" y="378.0" fill="#e3101a"/><use href="#dm" x="586.7" y="367.7" fill="#e3101a"/><use href="#dm" x="582.4" y="386.4" fill="#e3101a"/><use href="#dm" x="526.7" y="370.5" fill="#e3101a"/><use href="#tm" x="553.1" y="365.5" fill="#e3101a"/><use href="#dm" x="559.8" y="377.0" fill="#e3101a"/><use href="#dm" x="562.3" y="366.4" fill="#e3101a"/><use href="#tm" x="592.4" y="367.8" fill="#e3101a"/><use href="#tm" x="594.6" y="382.9" fill="#e3101a"/><use href="#dm" x="569.9" y="382.2" fill="#e3101a"/><use href="#dm" x="561.6" y="385.0" fill="#e3101a"/><use href="#dm" x="596.9" y="386.7" fill="#e3101a"/><use href="#dm" x="552.9" y="374.1" fill="#e3101a"/><use href="#dm" x="602.6" y="372.2" fill="#e3101a"/><use href="#tm" x="531.4" y="381.8" fill="#e0782a"/><use href="#dm" x="563.2" y="375.3" fill="#e3101a"/><use href="#dm" x="583.1" y="367.4" fill="#e3101a"/><use href="#dm" x="568.0" y="379.1" fill="#e3101a"/><use href="#tm" x="537.4" y="371.1" fill="#e0782a"/><use href="#dm" x="551.4" y="378.3" fill="#e3101a"/><use href="#dm" x="588.3" y="383.5" fill="#e3101a"/><use href="#tm" x="578.0" y="380.6" fill="#e3101a"/><use href="#tm" x="599.7" y="372.8" fill="#e0782a"/><use href="#tm" x="600.0" y="378.1" fill="#e3101a"/><use href="#dm" x="562.8" y="371.9" fill="#e3101a"/><use href="#dm" x="593.2" y="365.7" fill="#e3101a"/><use href="#dm" x="587.6" y="383.4" fill="#e3101a"/><use href="#dm" x="544.4" y="369.4" fill="#e3101a"/><use href="#dm" x="537.5" y="363.0" fill="#e3101a"/><use href="#dm" x="582.9" y="374.9" fill="#e3101a"/><use href="#tm" x="599.8" y="376.2" fill="#e3101a"/><use href="#tm" x="590.2" y="384.1" fill="#e3101a"/><use href="#dm" x="571.5" y="373.4" fill="#e3101a"/><use href="#dm" x="591.1" y="369.9" fill="#e3101a"/><use href="#dm" x="545.8" y="383.3" fill="#e3101a"/><use href="#dm" x="578.1" y="388.7" fill="#e3101a"/><use href="#tm" x="570.9" y="379.7" fill="#e3101a"/><use href="#dm" x="570.2" y="368.5" fill="#e3101a"/><use href="#dm" x="534.5" y="363.8" fill="#e3101a"/><use href="#dm" x="526.0" y="374.0" fill="#e3101a"/><use href="#dm" x="592.5" y="380.0" fill="#e3101a"/><use href="#dm" x="566.6" y="370.4" fill="#e3101a"/><use href="#dm" x="541.3" y="365.8" fill="#e3101a"/><use href="#dm" x="553.8" y="381.6" fill="#e3101a"/><use href="#tm" x="527.6" y="381.6" fill="#e3101a"/><use href="#dm" x="585.2" y="383.9" fill="#e3101a"/><use href="#tm" x="560.6" y="362.8" fill="#e3101a"/><use href="#dm" x="537.8" y="381.6" fill="#e3101a"/><use href="#dm" x="579.0" y="370.1" fill="#e3101a"/><use href="#tm" x="554.7" y="370.0" fill="#e3101a"/><use href="#dm" x="547.3" y="375.6" fill="#e3101a"/><use href="#tm" x="571.5" y="375.7" fill="#e3101a"/><use href="#dm" x="600.4" y="370.0" fill="#e3101a"/><use href="#dm" x="565.5" y="377.3" fill="#e3101a"/><use href="#dm" x="588.4" y="389.3" fill="#e3101a"/><use href="#dm" x="532.5" y="363.2" fill="#e3101a"/><use href="#dm" x="588.3" y="383.0" fill="#e3101a"/><use href="#dm" x="573.1" y="361.6" fill="#e3101a"/><use href="#dm" x="559.0" y="376.0" fill="#e3101a"/><use href="#dm" x="555.7" y="367.5" fill="#e3101a"/><use href="#tm" x="558.3" y="368.2" fill="#e3101a"/><use href="#dm" x="588.6" y="382.0" fill="#e3101a"/><use href="#dm" x="542.7" y="372.2" fill="#e3101a"/><use href="#dm" x="573.9" y="388.9" fill="#e3101a"/><use href="#tm" x="561.9" y="375.3" fill="#e3101a"/><use href="#dm" x="594.3" y="383.6" fill="#e3101a"/><use href="#tm" x="583.9" y="380.4" fill="#e3101a"/><use href="#dm" x="579.2" y="380.8" fill="#e3101a"/><use href="#dm" x="596.4" y="372.2" fill="#e3101a"/><use href="#tm" x="589.2" y="388.9" fill="#e0782a"/><use href="#dm" x="548.6" y="372.3" fill="#e3101a"/><use href="#dm" x="567.7" y="363.3" fill="#e3101a"/><use href="#dm" x="598.5" y="382.5" fill="#e3101a"/><use href="#dm" x="579.6" y="367.0" fill="#e3101a"/><use href="#dm" x="574.7" y="380.8" fill="#e3101a"/><use href="#dm" x="599.1" y="370.3" fill="#e3101a"/><use href="#dm" x="590.8" y="365.4" fill="#e3101a"/><use href="#dm" x="539.8" y="378.3" fill="#e3101a"/><use href="#dm" x="553.9" y="388.3" fill="#e3101a"/><use href="#dm" x="558.5" y="378.9" fill="#e3101a"/><use href="#dm" x="537.8" y="372.2" fill="#e3101a"/><use href="#dm" x="597.8" y="381.4" fill="#e3101a"/><use href="#dm" x="563.6" y="362.1" fill="#e3101a"/><use href="#dm" x="579.3" y="368.0" fill="#e3101a"/><use href="#dm" x="567.0" y="363.7" fill="#e3101a"/><use href="#dm" x="559.9" y="386.9" fill="#e3101a"/><use href="#tm" x="534.7" y="384.0" fill="#e3101a"/><use href="#dm" x="565.8" y="362.4" fill="#e3101a"/><use href="#dm" x="555.8" y="377.0" fill="#e3101a"/><use href="#tm" x="587.4" y="385.5" fill="#e0782a"/><use href="#tm" x="570.0" y="363.3" fill="#e3101a"/><use href="#dm" x="583.0" y="383.0" fill="#e3101a"/><use href="#dm" x="571.9" y="379.0" fill="#e3101a"/><use href="#dm" x="587.2" y="370.8" fill="#e3101a"/><use href="#dm" x="551.9" y="369.6" fill="#e3101a"/><use href="#dm" x="529.3" y="375.8" fill="#e3101a"/><use href="#dm" x="539.0" y="368.8" fill="#e3101a"/><use href="#dm" x="526.9" y="375.4" fill="#e3101a"/><use href="#dm" x="575.6" y="365.6" fill="#e3101a"/><use href="#dm" x="597.5" y="376.6" fill="#e3101a"/><use href="#dm" x="578.6" y="382.1" fill="#e3101a"/><use href="#dm" x="530.2" y="385.0" fill="#e3101a"/><use href="#dm" x="527.2" y="371.2" fill="#e3101a"/><use href="#tm" x="573.6" y="366.0" fill="#e3101a"/><use href="#tm" x="563.0" y="365.7" fill="#e3101a"/><use href="#dm" x="587.7" y="387.3" fill="#e3101a"/><use href="#tm" x="541.2" y="383.6" fill="#e3101a"/><use href="#tm" x="566.1" y="387.3" fill="#e0782a"/><use href="#tm" x="554.8" y="388.3" fill="#e0782a"/><use href="#dm" x="551.8" y="378.8" fill="#e3101a"/><use href="#dm" x="583.7" y="379.8" fill="#e3101a"/><use href="#tm" x="597.5" y="376.6" fill="#e3101a"/><use href="#tm" x="567.8" y="383.5" fill="#e3101a"/><use href="#dm" x="593.7" y="371.5" fill="#e3101a"/><use href="#dm" x="556.0" y="366.2" fill="#e3101a"/><use href="#dm" x="588.4" y="371.5" fill="#e3101a"/><use href="#dm" x="526.1" y="373.3" fill="#e3101a"/><use href="#tm" x="540.7" y="364.1" fill="#e0782a"/><use href="#dm" x="565.3" y="387.0" fill="#e3101a"/><use href="#dm" x="533.7" y="368.0" fill="#e3101a"/><use href="#tm" x="574.6" y="383.4" fill="#e3101a"/><use href="#dm" x="575.4" y="368.3" fill="#e3101a"/><use href="#dm" x="553.9" y="375.2" fill="#e3101a"/><use href="#dm" x="566.5" y="374.3" fill="#e3101a"/><use href="#tm" x="589.0" y="378.0" fill="#e3101a"/><use href="#tm" x="582.2" y="382.2" fill="#e0782a"/><use href="#dm" x="553.8" y="372.4" fill="#e3101a"/><use href="#dm" x="576.5" y="377.9" fill="#e3101a"/><use href="#tm" x="542.0" y="382.3" fill="#e3101a"/><use href="#dm" x="562.1" y="362.6" fill="#e3101a"/><use href="#dm" x="589.3" y="375.5" fill="#e3101a"/><use href="#dm" x="554.8" y="379.2" fill="#e3101a"/><use href="#tm" x="578.7" y="386.1" fill="#e3101a"/><use href="#tm" x="553.6" y="368.3" fill="#e3101a"/><use href="#dm" x="586.6" y="387.9" fill="#e3101a"/><use href="#dm" x="591.0" y="386.8" fill="#e3101a"/><use href="#dm" x="548.3" y="379.4" fill="#e3101a"/><use href="#dm" x="589.7" y="368.7" fill="#e3101a"/><use href="#dm" x="547.4" y="367.3" fill="#e3101a"/><use href="#dm" x="563.3" y="381.7" fill="#e3101a"/><use href="#dm" x="578.2" y="370.7" fill="#e3101a"/><use href="#dm" x="553.1" y="366.6" fill="#e3101a"/><use href="#dm" x="528.6" y="381.2" fill="#e3101a"/><use href="#tm" x="575.7" y="361.6" fill="#e3101a"/><use href="#dm" x="571.0" y="373.9" fill="#e3101a"/><use href="#dm" x="600.0" y="371.8" fill="#e3101a"/><use href="#dm" x="574.2" y="371.6" fill="#e3101a"/><use href="#dm" x="583.6" y="379.4" fill="#e3101a"/><use href="#tm" x="564.6" y="367.5" fill="#e3101a"/><use href="#dm" x="559.9" y="367.4" fill="#e3101a"/><use href="#dm" x="570.1" y="363.5" fill="#e3101a"/><use href="#dm" x="537.0" y="384.2" fill="#e3101a"/><use href="#dm" x="549.9" y="367.2" fill="#e3101a"/><use href="#dm" x="538.7" y="365.4" fill="#e3101a"/><use href="#dm" x="590.9" y="367.4" fill="#e3101a"/><use href="#dm" x="566.2" y="364.4" fill="#e3101a"/><use href="#dm" x="584.1" y="366.9" fill="#e3101a"/><use href="#dm" x="517.5" y="382.1" fill="#e3101a"/><use href="#dm" x="524.9" y="414.4" fill="#e3101a"/><use href="#dm" x="536.7" y="416.1" fill="#e3101a"/><use href="#dm" x="551.5" y="406.7" fill="#e3101a"/><use href="#dm" x="549.5" y="401.8" fill="#e3101a"/><use href="#dm" x="535.8" y="416.4" fill="#e3101a"/><use href="#dm" x="553.2" y="400.8" fill="#e3101a"/><use href="#tm" x="537.2" y="387.9" fill="#e3101a"/><use href="#tm" x="523.4" y="409.8" fill="#e3101a"/><use href="#dm" x="538.9" y="383.0" fill="#e3101a"/><use href="#dm" x="539.7" y="384.8" fill="#e3101a"/><use href="#dm" x="551.6" y="398.3" fill="#e3101a"/><use href="#tm" x="527.8" y="404.8" fill="#e3101a"/><use href="#dm" x="523.1" y="392.7" fill="#e3101a"/><use href="#dm" x="522.7" y="402.0" fill="#e3101a"/><use href="#dm" x="528.9" y="405.3" fill="#e3101a"/><use href="#dm" x="525.4" y="395.1" fill="#e3101a"/><use href="#dm" x="532.6" y="393.8" fill="#e3101a"/><use href="#dm" x="534.1" y="391.7" fill="#e3101a"/><use href="#dm" x="525.4" y="385.0" fill="#e3101a"/><use href="#dm" x="533.6" y="410.4" fill="#e3101a"/><use href="#dm" x="518.3" y="406.1" fill="#e3101a"/><use href="#tm" x="527.9" y="411.8" fill="#e3101a"/><use href="#dm" x="530.2" y="412.6" fill="#e3101a"/><use href="#tm" x="533.1" y="401.6" fill="#e3101a"/><use href="#dm" x="543.2" y="396.9" fill="#e3101a"/><use href="#dm" x="538.6" y="391.9" fill="#e3101a"/><use href="#tm" x="546.7" y="402.6" fill="#e3101a"/><use href="#dm" x="509.8" y="398.0" fill="#e3101a"/><use href="#dm" x="524.7" y="384.2" fill="#e3101a"/><use href="#dm" x="529.0" y="388.3" fill="#e3101a"/><use href="#dm" x="514.4" y="386.1" fill="#e3101a"/><use href="#dm" x="521.7" y="381.1" fill="#e3101a"/><use href="#dm" x="518.6" y="391.5" fill="#e3101a"/><use href="#dm" x="510.8" y="392.9" fill="#e3101a"/><use href="#dm" x="531.5" y="393.1" fill="#e3101a"/><use href="#dm" x="542.0" y="396.5" fill="#e3101a"/><use href="#dm" x="519.6" y="388.2" fill="#e3101a"/><use href="#dm" x="539.6" y="383.6" fill="#e3101a"/><use href="#dm" x="531.9" y="402.4" fill="#e3101a"/><use href="#dm" x="531.4" y="378.3" fill="#e3101a"/><use href="#dm" x="519.7" y="399.5" fill="#e3101a"/><use href="#dm" x="524.7" y="413.3" fill="#e3101a"/><use href="#dm" x="538.5" y="384.4" fill="#e3101a"/><use href="#dm" x="550.1" y="400.2" fill="#e3101a"/><use href="#dm" x="548.0" y="398.5" fill="#e3101a"/><use href="#dm" x="521.8" y="383.7" fill="#e3101a"/><use href="#dm" x="532.5" y="406.3" fill="#e3101a"/><use href="#dm" x="527.7" y="413.7" fill="#e3101a"/><use href="#dm" x="526.8" y="404.5" fill="#e3101a"/><use href="#dm" x="526.5" y="386.9" fill="#e3101a"/><use href="#dm" x="534.7" y="413.3" fill="#e3101a"/><use href="#dm" x="533.3" y="409.2" fill="#e3101a"/><use href="#dm" x="552.6" y="405.8" fill="#e3101a"/><use href="#dm" x="512.1" y="384.5" fill="#e3101a"/><use href="#dm" x="528.0" y="403.1" fill="#e3101a"/><use href="#tm" x="552.3" y="407.5" fill="#e3101a"/><use href="#dm" x="545.8" y="404.4" fill="#e3101a"/><use href="#dm" x="521.9" y="387.0" fill="#e3101a"/><use href="#dm" x="510.1" y="390.3" fill="#e3101a"/><use href="#dm" x="529.5" y="391.0" fill="#e3101a"/><use href="#dm" x="530.9" y="394.4" fill="#e3101a"/><use href="#dm" x="546.4" y="389.9" fill="#e3101a"/><use href="#tm" x="526.2" y="378.7" fill="#e3101a"/><use href="#dm" x="532.7" y="386.1" fill="#e3101a"/><use href="#dm" x="520.0" y="390.0" fill="#e3101a"/><use href="#dm" x="531.1" y="410.7" fill="#e3101a"/><use href="#dm" x="512.2" y="391.3" fill="#e3101a"/><use href="#dm" x="551.1" y="401.5" fill="#e3101a"/><use href="#dm" x="540.6" y="410.9" fill="#e3101a"/><use href="#dm" x="525.6" y="389.0" fill="#e3101a"/><use href="#dm" x="512.8" y="383.5" fill="#e3101a"/><use href="#dm" x="544.8" y="386.1" fill="#e3101a"/><use href="#dm" x="538.3" y="403.4" fill="#e3101a"/><use href="#dm" x="551.3" y="401.6" fill="#e3101a"/><use href="#tm" x="520.0" y="405.9" fill="#e3101a"/><use href="#dm" x="524.5" y="393.7" fill="#e3101a"/><use href="#tm" x="517.0" y="394.0" fill="#e3101a"/><use href="#dm" x="534.6" y="411.6" fill="#e3101a"/><use href="#dm" x="549.0" y="409.9" fill="#e3101a"/><use href="#dm" x="533.4" y="405.6" fill="#e3101a"/><use href="#dm" x="536.7" y="387.1" fill="#e3101a"/><use href="#dm" x="525.3" y="410.5" fill="#e3101a"/><use href="#dm" x="554.1" y="401.4" fill="#e3101a"/><use href="#dm" x="528.1" y="382.4" fill="#e3101a"/><use href="#dm" x="523.2" y="409.6" fill="#e3101a"/><use href="#dm" x="540.3" y="407.0" fill="#e3101a"/><use href="#dm" x="515.0" y="392.6" fill="#e3101a"/><use href="#dm" x="529.3" y="411.0" fill="#e3101a"/><use href="#dm" x="552.3" y="398.3" fill="#e3101a"/><use href="#dm" x="513.6" y="392.6" fill="#e3101a"/><use href="#dm" x="517.1" y="380.5" fill="#e3101a"/><use href="#dm" x="520.7" y="395.7" fill="#e3101a"/><use href="#dm" x="541.1" y="401.3" fill="#e3101a"/><use href="#dm" x="511.3" y="382.2" fill="#e3101a"/><use href="#tm" x="547.0" y="399.7" fill="#e3101a"/><use href="#dm" x="537.8" y="391.1" fill="#e3101a"/><use href="#dm" x="542.7" y="386.7" fill="#e3101a"/><use href="#dm" x="527.7" y="378.8" fill="#e3101a"/><use href="#tm" x="534.8" y="383.2" fill="#e3101a"/><use href="#tm" x="551.6" y="398.5" fill="#e3101a"/><use href="#dm" x="540.7" y="399.6" fill="#e3101a"/><use href="#dm" x="529.8" y="393.2" fill="#e3101a"/><use href="#dm" x="537.5" y="412.9" fill="#e3101a"/><use href="#dm" x="522.3" y="402.7" fill="#e3101a"/><use href="#dm" x="516.8" y="388.9" fill="#e3101a"/><use href="#dm" x="523.5" y="411.9" fill="#e3101a"/><use href="#dm" x="514.2" y="387.9" fill="#e3101a"/><use href="#dm" x="545.5" y="403.5" fill="#e3101a"/><use href="#dm" x="539.5" y="407.8" fill="#e3101a"/><use href="#dm" x="512.8" y="396.7" fill="#e3101a"/><use href="#dm" x="517.7" y="393.4" fill="#e3101a"/><use href="#dm" x="550.3" y="408.0" fill="#e3101a"/><use href="#dm" x="550.4" y="411.0" fill="#e3101a"/><use href="#dm" x="549.7" y="397.1" fill="#e3101a"/><use href="#dm" x="515.9" y="390.0" fill="#e3101a"/><use href="#dm" x="525.1" y="381.7" fill="#e3101a"/><use href="#dm" x="525.2" y="394.4" fill="#e3101a"/><use href="#dm" x="539.3" y="387.2" fill="#e3101a"/><use href="#dm" x="531.1" y="395.0" fill="#e3101a"/><use href="#dm" x="524.9" y="387.8" fill="#e3101a"/><use href="#dm" x="522.6" y="386.9" fill="#e3101a"/><use href="#dm" x="525.3" y="406.7" fill="#e3101a"/><use href="#dm" x="512.2" y="389.8" fill="#e3101a"/><use href="#dm" x="518.7" y="383.6" fill="#e3101a"/><use href="#dm" x="524.2" y="371.7" fill="#e3101a"/><use href="#dm" x="515.5" y="366.4" fill="#e3101a"/><use href="#dm" x="517.2" y="372.5" fill="#e3101a"/><use href="#dm" x="514.6" y="378.3" fill="#e3101a"/><use href="#dm" x="522.7" y="378.9" fill="#e3101a"/><use href="#dm" x="524.2" y="377.1" fill="#e3101a"/><use href="#dm" x="527.4" y="370.5" fill="#e3101a"/><use href="#dm" x="525.6" y="369.2" fill="#e3101a"/><use href="#dm" x="522.0" y="378.5" fill="#e3101a"/><use href="#dm" x="521.5" y="376.8" fill="#e3101a"/><use href="#dm" x="516.4" y="369.4" fill="#e3101a"/><use href="#dm" x="516.7" y="364.6" fill="#e3101a"/><use href="#dm" x="513.7" y="368.3" fill="#e3101a"/><use href="#dm" x="528.6" y="369.6" fill="#e3101a"/><use href="#dm" x="518.5" y="369.0" fill="#e3101a"/><use href="#tm" x="602.7" y="407.9" fill="#e0782a"/><use href="#tm" x="598.7" y="360.8" fill="#0c0a78"/><use href="#tm" x="549.4" y="399.5" fill="#0c0a78"/><use href="#tm" x="607.8" y="382.8" fill="#e3101a"/><use href="#tm" x="584.1" y="415.4" fill="#0c0a78"/><use href="#tm" x="577.2" y="374.2" fill="#e3101a"/><use href="#tm" x="543.1" y="402.9" fill="#0c0a78"/><use href="#tm" x="550.0" y="375.6" fill="#e0782a"/><use href="#tm" x="586.5" y="378.1" fill="#e3101a"/><use href="#tm" x="622.8" y="374.9" fill="#e3101a"/><use href="#tm" x="541.6" y="361.1" fill="#0c0a78"/><use href="#tm" x="610.9" y="406.6" fill="#e3101a"/><use href="#tm" x="616.7" y="371.8" fill="#0c0a78"/><use href="#tm" x="582.0" y="364.7" fill="#e0782a"/><use href="#tm" x="580.6" y="397.2" fill="#e3101a"/><use href="#tm" x="547.5" y="386.8" fill="#e3101a"/><use href="#tm" x="607.7" y="388.5" fill="#e0782a"/><use href="#tm" x="594.9" y="371.4" fill="#0c0a78"/><use href="#tm" x="596.6" y="379.6" fill="#0c0a78"/><use href="#tm" x="573.3" y="384.5" fill="#0c0a78"/><use href="#tm" x="558.8" y="366.7" fill="#0c0a78"/><use href="#tm" x="576.3" y="410.1" fill="#e0782a"/><use href="#tm" x="570.3" y="358.6" fill="#e0782a"/><use href="#tm" x="564.7" y="383.3" fill="#0c0a78"/><use href="#tm" x="602.6" y="406.1" fill="#e0782a"/><use href="#tm" x="589.8" y="380.8" fill="#e0782a"/><use href="#tm" x="556.0" y="374.1" fill="#e0782a"/><use href="#tm" x="566.9" y="412.2" fill="#0c0a78"/><use href="#tm" x="595.9" y="356.1" fill="#e0782a"/><use href="#tm" x="586.6" y="398.6" fill="#e0782a"/><use href="#tm" x="595.1" y="412.0" fill="#e0782a"/><use href="#tm" x="571.3" y="402.9" fill="#e0782a"/><use href="#tm" x="603.5" y="380.0" fill="#e0782a"/><use href="#tm" x="578.9" y="359.3" fill="#0c0a78"/><use href="#tm" x="615.3" y="388.4" fill="#e3101a"/><use href="#tm" x="553.3" y="386.1" fill="#e0782a"/><use href="#tm" x="541.1" y="384.7" fill="#e0782a"/><use href="#tm" x="528.2" y="386.8" fill="#e0782a"/><use href="#tm" x="547.9" y="373.0" fill="#e0782a"/><use href="#tm" x="534.3" y="379.9" fill="#e0782a"/><use href="#tm" x="563.4" y="382.7" fill="#e0782a"/><use href="#tm" x="586.9" y="366.7" fill="#e0782a"/><use href="#tm" x="560.2" y="364.7" fill="#e0782a"/><use href="#tm" x="572.7" y="364.6" fill="#e0782a"/><use href="#tm" x="556.1" y="366.9" fill="#e0782a"/><use href="#tm" x="559.6" y="363.8" fill="#e0782a"/><use href="#tm" x="563.6" y="365.3" fill="#e0782a"/><use href="#tm" x="528.0" y="366.5" fill="#e0782a"/><use href="#tm" x="541.6" y="373.0" fill="#e0782a"/><use href="#tm" x="557.7" y="374.8" fill="#e0782a"/><use href="#tm" x="561.2" y="363.5" fill="#e0782a"/><use href="#tm" x="546.2" y="363.2" fill="#e0782a"/><use href="#tm" x="586.1" y="378.3" fill="#e0782a"/><use href="#dm" x="106.6" y="448.1" fill="#0c0a78"/><use href="#dm" x="91.2" y="428.2" fill="#0c0a78"/><use href="#dm" x="93.1" y="450.6" fill="#0c0a78"/><use href="#dm" x="92.5" y="441.6" fill="#0c0a78"/><use href="#dm" x="95.9" y="432.5" fill="#0c0a78"/><use href="#dm" x="96.9" y="443.7" fill="#0c0a78"/><use href="#dm" x="104.6" y="427.0" fill="#0c0a78"/><use href="#dm" x="125.4" y="456.2" fill="#0c0a78"/><use href="#dm" x="97.0" y="453.1" fill="#0c0a78"/><use href="#dm" x="95.7" y="446.2" fill="#0c0a78"/><use href="#dm" x="87.3" y="432.8" fill="#0c0a78"/><use href="#dm" x="106.8" y="446.5" fill="#0c0a78"/><use href="#dm" x="101.8" y="425.8" fill="#0c0a78"/><use href="#dm" x="115.0" y="447.7" fill="#0c0a78"/><use href="#dm" x="118.1" y="448.6" fill="#0c0a78"/><use href="#dm" x="107.0" y="458.0" fill="#0c0a78"/><use href="#dm" x="110.0" y="453.2" fill="#0c0a78"/><use href="#dm" x="128.4" y="442.7" fill="#0c0a78"/><use href="#dm" x="91.6" y="426.5" fill="#0c0a78"/><use href="#dm" x="124.2" y="455.6" fill="#0c0a78"/><use href="#dm" x="112.4" y="452.7" fill="#0c0a78"/><use href="#dm" x="105.5" y="445.0" fill="#0c0a78"/><use href="#dm" x="92.6" y="449.9" fill="#0c0a78"/><use href="#dm" x="99.0" y="451.7" fill="#0c0a78"/><use href="#dm" x="105.6" y="430.4" fill="#0c0a78"/><use href="#tm" x="307.9" y="273.5" fill="#0c0a78"/><use href="#tm" x="339.8" y="290.9" fill="#0c0a78"/><use href="#tm" x="318.2" y="281.2" fill="#0c0a78"/><use href="#tm" x="319.6" y="301.1" fill="#0c0a78"/><use href="#tm" x="335.4" y="284.0" fill="#0c0a78"/><use href="#tm" x="337.0" y="304.1" fill="#0c0a78"/><use href="#tm" x="328.6" y="298.6" fill="#0c0a78"/><use href="#dm" x="339.8" y="296.4" fill="#0c0a78"/><use href="#tm" x="288.2" y="277.9" fill="#0c0a78"/><use href="#dm" x="321.5" y="271.1" fill="#0c0a78"/><use href="#tm" x="335.8" y="277.1" fill="#0c0a78"/><use href="#tm" x="325.1" y="282.4" fill="#0c0a78"/><use href="#dm" x="572.5" y="449.1" fill="#0c0a78"/><use href="#dm" x="585.8" y="465.2" fill="#0c0a78"/><use href="#dm" x="603.6" y="457.8" fill="#0c0a78"/><use href="#dm" x="589.0" y="452.3" fill="#0c0a78"/><use href="#dm" x="582.5" y="461.0" fill="#0c0a78"/><use href="#dm" x="588.5" y="444.0" fill="#0c0a78"/><use href="#dm" x="601.8" y="459.0" fill="#0c0a78"/><use href="#dm" x="594.7" y="446.7" fill="#0c0a78"/><use href="#dm" x="582.2" y="464.5" fill="#0c0a78"/><use href="#dm" x="597.4" y="461.4" fill="#0c0a78"/><use href="#dm" x="562.7" y="446.5" fill="#0c0a78"/><use href="#dm" x="585.6" y="436.8" fill="#0c0a78"/><use href="#dm" x="581.4" y="434.5" fill="#0c0a78"/><use href="#dm" x="590.0" y="467.3" fill="#0c0a78"/><use href="#dm" x="602.1" y="454.5" fill="#0c0a78"/><use href="#dm" x="79.4" y="391.8" fill="#0c0a78"/><use href="#dm" x="103.7" y="395.8" fill="#0c0a78"/><use href="#dm" x="110.5" y="395.1" fill="#0c0a78"/><use href="#dm" x="91.5" y="398.5" fill="#0c0a78"/><use href="#dm" x="141.9" y="393.2" fill="#0c0a78"/><use href="#dm" x="147.0" y="393.2" fill="#0c0a78"/><use href="#dm" x="155.8" y="393.2" fill="#0c0a78"/><use href="#dm" x="157.2" y="396.6" fill="#0c0a78"/><use href="#dm" x="117.1" y="406.1" fill="#0c0a78"/><use href="#dm" x="152.1" y="408.7" fill="#0c0a78"/><use href="#dm" x="144.8" y="410.4" fill="#0c0a78"/><use href="#dm" x="162.4" y="408.2" fill="#0c0a78"/><use href="#dm" x="158.0" y="411.9" fill="#0c0a78"/><use href="#dm" x="75.1" y="414.1" fill="#0c0a78"/><use href="#dm" x="75.5" y="417.7" fill="#0c0a78"/><use href="#dm" x="85.7" y="412.6" fill="#0c0a78"/><use href="#dm" x="86.4" y="416.0" fill="#0c0a78"/><use href="#dm" x="96.7" y="412.6" fill="#0c0a78"/><use href="#dm" x="98.8" y="417.0" fill="#0c0a78"/><use href="#dm" x="104.7" y="410.4" fill="#0c0a78"/><use href="#dm" x="108.3" y="411.6" fill="#0c0a78"/><use href="#dm" x="110.5" y="414.1" fill="#0c0a78"/><use href="#dm" x="111.3" y="411.9" fill="#0c0a78"/><use href="#dm" x="127.3" y="418.9" fill="#0c0a78"/><use href="#dm" x="144.1" y="411.2" fill="#0c0a78"/><use href="#dm" x="147.0" y="425.0" fill="#0c0a78"/><use href="#dm" x="81.3" y="429.1" fill="#0c0a78"/><use href="#dm" x="89.4" y="426.2" fill="#0c0a78"/><use href="#dm" x="95.2" y="427.2" fill="#0c0a78"/><use href="#dm" x="97.4" y="423.9" fill="#0c0a78"/><use href="#dm" x="101.0" y="421.4" fill="#0c0a78"/><use href="#dm" x="104.0" y="422.1" fill="#0c0a78"/><use href="#dm" x="107.6" y="423.6" fill="#0c0a78"/><use href="#dm" x="109.1" y="425.8" fill="#0c0a78"/><use href="#dm" x="105.4" y="429.4" fill="#0c0a78"/><use href="#dm" x="99.6" y="429.4" fill="#0c0a78"/><use href="#dm" x="103.2" y="433.8" fill="#0c0a78"/><use href="#dm" x="116.4" y="427.2" fill="#0c0a78"/><use href="#dm" x="115.6" y="430.1" fill="#0c0a78"/><use href="#dm" x="114.2" y="433.8" fill="#0c0a78"/><use href="#dm" x="117.1" y="436.7" fill="#0c0a78"/><use href="#dm" x="108.3" y="438.2" fill="#0c0a78"/><use href="#dm" x="102.5" y="438.2" fill="#0c0a78"/><use href="#dm" x="104.7" y="440.4" fill="#0c0a78"/><use href="#dm" x="124.4" y="425.0" fill="#0c0a78"/><use href="#dm" x="126.6" y="427.2" fill="#0c0a78"/><use href="#dm" x="128.0" y="430.1" fill="#0c0a78"/><use href="#dm" x="130.2" y="430.9" fill="#0c0a78"/><use href="#dm" x="134.6" y="429.4" fill="#0c0a78"/><use href="#dm" x="139.0" y="430.9" fill="#0c0a78"/><use href="#dm" x="124.4" y="433.8" fill="#0c0a78"/><use href="#dm" x="92.3" y="441.1" fill="#0c0a78"/><use href="#dm" x="89.4" y="442.6" fill="#0c0a78"/><use href="#dm" x="93.7" y="445.5" fill="#0c0a78"/><use href="#dm" x="90.8" y="446.9" fill="#0c0a78"/><use href="#dm" x="79.9" y="448.4" fill="#0c0a78"/><use href="#dm" x="97.4" y="450.6" fill="#0c0a78"/><use href="#dm" x="101.0" y="457.2" fill="#0c0a78"/><use href="#dm" x="104.7" y="461.5" fill="#0c0a78"/><use href="#dm" x="108.3" y="462.3" fill="#0c0a78"/><use href="#dm" x="107.6" y="452.8" fill="#0c0a78"/><use href="#dm" x="112.7" y="454.2" fill="#0c0a78"/><use href="#dm" x="109.8" y="456.4" fill="#0c0a78"/><use href="#dm" x="114.2" y="457.2" fill="#0c0a78"/><use href="#dm" x="115.6" y="447.7" fill="#0c0a78"/><use href="#dm" x="117.8" y="454.2" fill="#0c0a78"/><use href="#dm" x="121.5" y="461.5" fill="#0c0a78"/><use href="#dm" x="122.2" y="468.1" fill="#0c0a78"/><use href="#dm" x="120.0" y="474.7" fill="#0c0a78"/><use href="#dm" x="120.7" y="481.2" fill="#0c0a78"/><use href="#dm" x="119.3" y="497.7" fill="#0c0a78"/><use href="#dm" x="130.2" y="440.4" fill="#0c0a78"/><use href="#dm" x="132.4" y="438.9" fill="#0c0a78"/><use href="#dm" x="134.6" y="444.7" fill="#0c0a78"/><use href="#dm" x="137.5" y="449.1" fill="#0c0a78"/><use href="#dm" x="143.4" y="450.6" fill="#0c0a78"/><use href="#dm" x="145.6" y="440.4" fill="#0c0a78"/><use href="#dm" x="125.9" y="446.2" fill="#0c0a78"/><use href="#dm" x="128.8" y="448.4" fill="#0c0a78"/><use href="#dm" x="127.3" y="452.0" fill="#0c0a78"/><use href="#dm" x="131.7" y="452.8" fill="#0c0a78"/><use href="#dm" x="135.3" y="454.2" fill="#0c0a78"/><use href="#dm" x="131.7" y="461.5" fill="#0c0a78"/><use href="#dm" x="131.0" y="465.9" fill="#0c0a78"/><use href="#dm" x="129.5" y="472.5" fill="#0c0a78"/><use href="#dm" x="146.3" y="475.4" fill="#0c0a78"/><use href="#dm" x="144.8" y="484.2" fill="#0c0a78"/><use href="#dm" x="82.1" y="457.2" fill="#0c0a78"/><use href="#dm" x="91.5" y="460.8" fill="#0c0a78"/><use href="#tm" x="159.4" y="425.0" fill="#0c0a78"/><use href="#dm" x="95.2" y="433.8" fill="#0c0a78"/><use href="#dm" x="92.3" y="438.2" fill="#0c0a78"/><use href="#dm" x="111.3" y="436.7" fill="#0c0a78"/><use href="#dm" x="98.8" y="441.1" fill="#0c0a78"/><use href="#dm" x="96.7" y="447.7" fill="#0c0a78"/><use href="#dm" x="109.8" y="449.9" fill="#0c0a78"/><use href="#dm" x="118.6" y="441.1" fill="#0c0a78"/><use href="#dm" x="121.5" y="435.3" fill="#0c0a78"/><use href="#dm" x="144.8" y="351.8" fill="#0c0a78"/><use href="#dm" x="147.0" y="372.3" fill="#0c0a78"/><use href="#dm" x="95.9" y="382.5" fill="#0c0a78"/><use href="#dm" x="105.1" y="380.3" fill="#0c0a78"/><use href="#dm" x="222.0" y="308.7" fill="#0c0a78"/><use href="#dm" x="228.6" y="334.5" fill="#0c0a78"/><use href="#dm" x="233.7" y="337.0" fill="#0c0a78"/><use href="#dm" x="210.8" y="338.2" fill="#0c0a78"/><use href="#dm" x="220.6" y="351.6" fill="#0c0a78"/><use href="#dm" x="228.3" y="350.6" fill="#0c0a78"/><use href="#dm" x="213.3" y="358.3" fill="#0c0a78"/><use href="#dm" x="222.8" y="358.3" fill="#0c0a78"/><use href="#dm" x="232.0" y="358.3" fill="#0c0a78"/><use href="#dm" x="189.2" y="355.7" fill="#0c0a78"/><use href="#dm" x="192.1" y="357.9" fill="#0c0a78"/><use href="#dm" x="198.2" y="357.9" fill="#0c0a78"/><use href="#dm" x="185.1" y="363.7" fill="#0c0a78"/><use href="#dm" x="195.8" y="363.3" fill="#0c0a78"/><use href="#dm" x="169.9" y="387.8" fill="#0c0a78"/><use href="#dm" x="170.1" y="387.6" fill="#0c0a78"/><use href="#dm" x="172.2" y="407.4" fill="#0c0a78"/><use href="#tm" x="166.8" y="421.6" fill="#0c0a78"/><use href="#tm" x="167.5" y="423.1" fill="#0c0a78"/><use href="#dm" x="171.9" y="422.3" fill="#0c0a78"/><use href="#dm" x="174.5" y="420.6" fill="#0c0a78"/><use href="#dm" x="199.6" y="419.1" fill="#0c0a78"/><use href="#dm" x="199.3" y="427.0" fill="#0c0a78"/><use href="#dm" x="455.8" y="246.4" fill="#e3101a"/><use href="#dm" x="454.0" y="251.7" fill="#e3101a"/><use href="#dm" x="447.0" y="256.0" fill="#e3101a"/><use href="#dm" x="440.0" y="262.2" fill="#e3101a"/><use href="#dm" x="465.5" y="267.4" fill="#e3101a"/><use href="#dm" x="475.0" y="258.7" fill="#e3101a"/><use href="#dm" x="474.2" y="266.6" fill="#e3101a"/><use href="#dm" x="472.5" y="271.0" fill="#e3101a"/><use href="#dm" x="445.3" y="275.3" fill="#e3101a"/><use href="#dm" x="448.8" y="273.6" fill="#e3101a"/><use href="#dm" x="452.3" y="267.4" fill="#e3101a"/><use href="#dm" x="486.5" y="273.6" fill="#e3101a"/><use href="#dm" x="475.0" y="295.5" fill="#e3101a"/><use href="#dm" x="478.6" y="296.4" fill="#e3101a"/><use href="#dm" x="483.9" y="295.5" fill="#e3101a"/><use href="#dm" x="473.0" y="250.8" fill="#e3101a"/><use href="#cm" x="392.8" y="256.0" fill="#e3101a"/><use href="#cm" x="402.4" y="218.4" fill="#e3101a"/><use href="#tm" x="395.4" y="235.0" fill="#e3101a"/><use href="#cm" x="379.6" y="213.1" fill="#64e62a"/><use href="#cm" x="486.5" y="228.0" fill="#64e62a"/><use href="#cm" x="432.2" y="284.1" fill="#64e62a"/><use href="#cm" x="426.1" y="267.4" fill="#64e62a"/><use href="#cm" x="431.3" y="262.2" fill="#64e62a"/><use href="#cm" x="377.0" y="235.0" fill="#e0782a"/><use href="#cm" x="437.4" y="277.1" fill="#e0782a"/><use href="#cm" x="389.3" y="264.8" fill="#e0782a"/><use href="#cm" x="396.3" y="265.7" fill="#e0782a"/><use href="#cm" x="483.0" y="235.0" fill="#e0782a"/><use href="#cm" x="479.5" y="257.0" fill="#e0782a"/><use href="#tm" x="394.5" y="281.0" fill="#0c0a78"/><use href="#tm" x="395.4" y="283.3" fill="#0c0a78"/><use href="#tm" x="375.3" y="292.0" fill="#0c0a78"/><use href="#tm" x="412.0" y="271.0" fill="#0c0a78"/><use href="#tm" x="390.5" y="171.5" fill="#7a1030"/><use href="#cm" x="489.7" y="129.4" fill="#e0782a"/><use href="#tm" x="490.1" y="131.6" fill="#e0782a"/><use href="#cm" x="486.2" y="135.1" fill="#e0782a"/><use href="#cm" x="487.5" y="136.9" fill="#e0782a"/><use href="#cm" x="491.9" y="137.8" fill="#e0782a"/><use href="#tm" x="489.7" y="143.5" fill="#e0782a"/><use href="#cm" x="473.1" y="136.0" fill="#e0782a"/><use href="#cm" x="475.3" y="156.2" fill="#e0782a"/><use href="#cm" x="474.4" y="162.7" fill="#e0782a"/><use href="#cm" x="471.3" y="162.7" fill="#e0782a"/><use href="#cm" x="477.0" y="171.5" fill="#e0782a"/><use href="#cm" x="516.0" y="144.8" fill="#e0782a"/><use href="#cm" x="512.9" y="149.2" fill="#e0782a"/><use href="#tm" x="517.3" y="149.6" fill="#e0782a"/><use href="#cm" x="511.6" y="150.9" fill="#e0782a"/><use href="#cm" x="509.0" y="152.7" fill="#e0782a"/><use href="#cm" x="508.5" y="155.3" fill="#e0782a"/><use href="#cm" x="507.7" y="157.9" fill="#e0782a"/><use href="#cm" x="505.9" y="160.5" fill="#e0782a"/><use href="#cm" x="521.7" y="142.1" fill="#e0782a"/><use href="#cm" x="526.0" y="135.6" fill="#e0782a"/><use href="#cm" x="477.4" y="135.6" fill="#64e62a"/><use href="#cm" x="475.3" y="150.5" fill="#64e62a"/><use href="#cm" x="529.5" y="155.3" fill="#64e62a"/><use href="#dm" x="475.8" y="295.3" fill="#e3101a"/><use href="#dm" x="477.8" y="298.4" fill="#e3101a"/><use href="#dm" x="483.9" y="295.3" fill="#e3101a"/><use href="#dm" x="472.7" y="300.4" fill="#e3101a"/><use href="#dm" x="476.8" y="306.2" fill="#e3101a"/><use href="#dm" x="486.0" y="309.6" fill="#e3101a"/><use href="#dm" x="490.1" y="310.2" fill="#e3101a"/><use href="#dm" x="491.1" y="312.3" fill="#e3101a"/><use href="#dm" x="497.2" y="306.6" fill="#e3101a"/><use href="#tm" x="503.4" y="306.2" fill="#e3101a"/><use href="#tm" x="518.7" y="304.5" fill="#e3101a"/><use href="#tm" x="523.8" y="300.0" fill="#e3101a"/><use href="#tm" x="479.9" y="312.7" fill="#e3101a"/><use href="#dm" x="476.8" y="316.8" fill="#e3101a"/><use href="#dm" x="478.8" y="314.3" fill="#e3101a"/><use href="#dm" x="470.7" y="321.9" fill="#e3101a"/><use href="#dm" x="474.7" y="322.9" fill="#e3101a"/><use href="#dm" x="483.9" y="311.7" fill="#e3101a"/><use href="#dm" x="494.2" y="322.9" fill="#e3101a"/><use href="#dm" x="488.0" y="325.4" fill="#7a1030"/><use href="#dm" x="481.9" y="328.0" fill="#0c0a78"/><use href="#dm" x="485.0" y="329.0" fill="#0c0a78"/><use href="#dm" x="498.2" y="330.1" fill="#e3101a"/><use href="#dm" x="504.4" y="329.0" fill="#e3101a"/><use href="#dm" x="513.6" y="325.0" fill="#e3101a"/><use href="#dm" x="495.2" y="334.8" fill="#e3101a"/><use href="#dm" x="501.3" y="333.1" fill="#e3101a"/><use href="#dm" x="496.2" y="340.3" fill="#e3101a"/><use href="#dm" x="502.3" y="339.3" fill="#e3101a"/><use href="#dm" x="503.4" y="348.5" fill="#e3101a"/><use href="#dm" x="510.5" y="345.0" fill="#e3101a"/><use href="#dm" x="517.7" y="345.8" fill="#e3101a"/><use href="#dm" x="525.8" y="345.0" fill="#e3101a"/><use href="#dm" x="530.9" y="341.3" fill="#e3101a"/><use href="#dm" x="523.8" y="350.5" fill="#e3101a"/><use href="#dm" x="528.9" y="351.1" fill="#e3101a"/><use href="#dm" x="535.0" y="349.5" fill="#e3101a"/><use href="#dm" x="491.1" y="361.3" fill="#e3101a"/><use href="#dm" x="500.3" y="363.8" fill="#e3101a"/><use href="#dm" x="505.4" y="363.8" fill="#e3101a"/><use href="#dm" x="504.4" y="366.9" fill="#e3101a"/><use href="#dm" x="512.6" y="365.8" fill="#e3101a"/><use href="#dm" x="518.7" y="363.8" fill="#e3101a"/><use href="#dm" x="543.2" y="293.9" fill="#e0782a"/><use href="#tm" x="543.2" y="345.0" fill="#e0782a"/><use href="#tm" x="573.9" y="352.6" fill="#0c0a78"/><use href="#dm" x="550.4" y="357.7" fill="#e3101a"/><use href="#tm" x="543.0" y="345.7" fill="#e0782a"/><use href="#tm" x="600.6" y="350.8" fill="#e0782a"/><use href="#tm" x="569.2" y="401.9" fill="#e0782a"/><use href="#tm" x="573.6" y="401.9" fill="#e0782a"/><use href="#tm" x="578.0" y="400.5" fill="#e0782a"/><use href="#tm" x="566.3" y="406.3" fill="#e0782a"/><use href="#tm" x="571.4" y="406.3" fill="#e0782a"/><use href="#tm" x="580.9" y="411.4" fill="#e0782a"/><use href="#tm" x="586.8" y="413.6" fill="#e0782a"/><use href="#tm" x="592.6" y="413.6" fill="#e0782a"/><use href="#tm" x="601.4" y="400.5" fill="#e0782a"/><use href="#tm" x="550.3" y="407.8" fill="#e0782a"/><use href="#tm" x="547.3" y="412.2" fill="#e0782a"/><use href="#tm" x="555.4" y="420.2" fill="#e0782a"/><use href="#tm" x="559.7" y="419.5" fill="#e0782a"/><use href="#tm" x="572.9" y="352.3" fill="#0c0a78"/><use href="#tm" x="584.6" y="391.7" fill="#0c0a78"/><use href="#tm" x="586.8" y="399.7" fill="#0c0a78"/><use href="#tm" x="573.6" y="397.6" fill="#0c0a78"/><use href="#tm" x="579.5" y="401.9" fill="#0c0a78"/><use href="#tm" x="580.9" y="407.8" fill="#0c0a78"/><use href="#tm" x="584.6" y="407.0" fill="#0c0a78"/><use href="#tm" x="576.5" y="408.5" fill="#0c0a78"/><use href="#tm" x="598.4" y="407.8" fill="#0c0a78"/><use href="#tm" x="556.1" y="410.7" fill="#0c0a78"/><use href="#tm" x="563.4" y="407.8" fill="#0c0a78"/><use href="#dm" x="597.0" y="418.0" fill="#0c0a78"/><use href="#tm" x="595.5" y="400.5" fill="#e3101a"/><use href="#tm" x="601.4" y="393.2" fill="#e3101a"/><use href="#tm" x="580.9" y="350.8" fill="#e3101a"/><use href="#tm" x="578.0" y="351.6" fill="#e3101a"/><use href="#tm" x="579.5" y="419.5" fill="#e3101a"/><use href="#tm" x="512.3" y="386.6" fill="#7a1030"/><use href="#dm" x="559.0" y="413.6" fill="#e3101a"/><use href="#dm" x="553.2" y="416.5" fill="#e3101a"/><use href="#dm" x="545.9" y="418.0" fill="#e3101a"/><use href="#dm" x="533.5" y="416.5" fill="#e3101a"/><use href="#dm" x="491.2" y="360.4" fill="#e3101a"/><use href="#dm" x="500.4" y="363.5" fill="#e3101a"/><use href="#dm" x="504.5" y="365.5" fill="#e3101a"/><use href="#dm" x="490.2" y="377.8" fill="#e3101a"/><use href="#dm" x="496.3" y="379.9" fill="#e3101a"/><use href="#tm" x="600.6" y="350.2" fill="#e0782a"/><use href="#tm" x="613.9" y="373.7" fill="#e0782a"/><use href="#tm" x="602.6" y="399.3" fill="#e0782a"/><use href="#tm" x="612.8" y="399.3" fill="#e0782a"/><use href="#dm" x="608.8" y="409.5" fill="#e3101a"/><use href="#tm" x="613.9" y="385.0" fill="#e3101a"/><use href="#tm" x="570.3" y="8.8" fill="#e0782a"/><use href="#dm" x="597.9" y="417.7" fill="#0c0a78"/><use href="#dm" x="584.3" y="424.9" fill="#0c0a78"/><use href="#dm" x="578.7" y="430.5" fill="#0c0a78"/><use href="#dm" x="568.5" y="430.5" fill="#0c0a78"/><use href="#dm" x="566.2" y="433.9" fill="#0c0a78"/><use href="#dm" x="573.0" y="435.1" fill="#0c0a78"/><use href="#dm" x="592.2" y="435.1" fill="#0c0a78"/><use href="#dm" x="604.7" y="432.8" fill="#0c0a78"/><use href="#dm" x="575.3" y="440.7" fill="#0c0a78"/><use href="#dm" x="578.7" y="441.9" fill="#0c0a78"/><use href="#dm" x="583.2" y="440.7" fill="#0c0a78"/><use href="#dm" x="586.6" y="443.0" fill="#0c0a78"/><use href="#dm" x="590.0" y="445.3" fill="#0c0a78"/><use href="#dm" x="593.4" y="446.4" fill="#0c0a78"/><use href="#dm" x="595.6" y="443.0" fill="#0c0a78"/><use href="#dm" x="597.9" y="447.5" fill="#0c0a78"/><use href="#dm" x="600.2" y="449.8" fill="#0c0a78"/><use href="#dm" x="571.9" y="446.4" fill="#0c0a78"/><use href="#dm" x="577.5" y="446.4" fill="#0c0a78"/><use href="#dm" x="573.0" y="452.0" fill="#0c0a78"/><use href="#dm" x="576.4" y="453.2" fill="#0c0a78"/><use href="#dm" x="584.3" y="450.9" fill="#0c0a78"/><use href="#dm" x="590.0" y="450.9" fill="#0c0a78"/><use href="#dm" x="595.6" y="454.3" fill="#0c0a78"/><use href="#dm" x="602.4" y="454.3" fill="#0c0a78"/><use href="#dm" x="580.9" y="456.6" fill="#0c0a78"/><use href="#dm" x="583.2" y="457.7" fill="#0c0a78"/><use href="#dm" x="590.0" y="460.0" fill="#0c0a78"/><use href="#dm" x="591.1" y="463.4" fill="#0c0a78"/><use href="#dm" x="588.8" y="464.5" fill="#0c0a78"/><use href="#dm" x="570.7" y="464.5" fill="#0c0a78"/><use href="#dm" x="563.9" y="465.6" fill="#0c0a78"/><use href="#dm" x="577.5" y="469.0" fill="#0c0a78"/><use href="#dm" x="600.2" y="467.4" fill="#0c0a78"/><use href="#dm" x="611.5" y="454.3" fill="#0c0a78"/><use href="#dm" x="616.0" y="455.4" fill="#0c0a78"/><use href="#dm" x="611.5" y="461.1" fill="#0c0a78"/><use href="#dm" x="620.5" y="461.1" fill="#0c0a78"/><use href="#dm" x="602.4" y="444.1" fill="#0c0a78"/><use href="#tm" x="613.7" y="436.2" fill="#0c0a78"/><use href="#tm" x="616.0" y="456.6" fill="#0c0a78"/><use href="#tm" x="621.6" y="466.8" fill="#0c0a78"/><use href="#tm" x="584.3" y="429.4" fill="#0c0a78"/><use href="#tm" x="579.8" y="430.5" fill="#0c0a78"/><use href="#dm" x="674.8" y="435.1" fill="#e3101a"/><use href="#dm" x="536.3" y="427.2" fill="#e3101a"/><use href="#dm" x="533.4" y="415.8" fill="#e3101a"/><use href="#dm" x="545.8" y="418.1" fill="#e3101a"/><use href="#dm" x="552.6" y="416.3" fill="#e3101a"/><use href="#dm" x="559.4" y="413.6" fill="#e3101a"/><use href="#dm" x="559.4" y="418.1" fill="#e3101a"/><use href="#dm" x="609.2" y="409.5" fill="#e3101a"/><use href="#tm" x="578.7" y="420.4" fill="#e3101a"/><use href="#cm" x="604.7" y="439.6" fill="#e0782a"/><use href="#cm" x="608.1" y="445.3" fill="#e0782a"/><use href="#cm" x="566.2" y="424.9" fill="#e0782a"/><use href="#cm" x="570.7" y="422.6" fill="#e0782a"/><use href="#tm" x="629.6" y="407.9" fill="#e0782a"/><use href="#tm" x="634.1" y="404.5" fill="#e0782a"/><use href="#tm" x="591.1" y="414.7" fill="#e0782a"/><use href="#tm" x="587.7" y="415.8" fill="#e0782a"/><use href="#tm" x="582.0" y="411.3" fill="#e0782a"/><use href="#tm" x="597.9" y="401.1" fill="#0c0a78"/><use href="#tm" x="557.2" y="410.2" fill="#0c0a78"/><use href="#cm" x="472.8" y="162.8" fill="#e0782a"/><use href="#cm" x="476.3" y="171.5" fill="#e0782a"/><use href="#cm" x="471.0" y="183.8" fill="#e0782a"/><use href="#cm" x="474.5" y="187.3" fill="#e0782a"/><use href="#cm" x="467.5" y="192.6" fill="#e0782a"/><use href="#cm" x="466.6" y="196.1" fill="#e0782a"/><use href="#cm" x="480.7" y="186.4" fill="#e0782a"/><use href="#cm" x="479.8" y="190.8" fill="#e0782a"/><use href="#cm" x="487.7" y="181.2" fill="#e0782a"/><use href="#cm" x="490.3" y="162.8" fill="#e0782a"/><use href="#cm" x="495.6" y="165.4" fill="#e0782a"/><use href="#cm" x="496.4" y="174.2" fill="#e0782a"/><use href="#cm" x="499.1" y="176.8" fill="#e0782a"/><use href="#cm" x="493.8" y="182.9" fill="#e0782a"/><use href="#cm" x="491.2" y="189.9" fill="#e0782a"/><use href="#cm" x="490.3" y="191.7" fill="#e0782a"/><use href="#cm" x="486.8" y="196.9" fill="#e0782a"/><use href="#cm" x="485.0" y="200.4" fill="#e0782a"/><use href="#cm" x="495.6" y="198.7" fill="#e0782a"/><use href="#tm" x="500.8" y="201.3" fill="#e0782a"/><use href="#cm" x="507.8" y="190.8" fill="#e0782a"/><use href="#cm" x="504.3" y="192.6" fill="#e0782a"/><use href="#cm" x="513.9" y="184.7" fill="#e0782a"/><use href="#cm" x="522.7" y="196.1" fill="#e0782a"/><use href="#cm" x="513.9" y="208.3" fill="#e0782a"/><use href="#cm" x="508.7" y="213.6" fill="#e0782a"/><use href="#dm" x="492.0" y="215.3" fill="#e0782a"/><use href="#cm" x="483.3" y="206.6" fill="#e0782a"/><use href="#cm" x="481.5" y="210.1" fill="#e0782a"/><use href="#cm" x="478.9" y="213.6" fill="#e0782a"/><use href="#cm" x="476.3" y="218.0" fill="#e0782a"/><use href="#cm" x="480.7" y="218.8" fill="#e0782a"/><use href="#cm" x="483.3" y="222.3" fill="#e0782a"/><use href="#cm" x="476.3" y="224.1" fill="#e0782a"/><use href="#cm" x="474.5" y="229.3" fill="#e0782a"/><use href="#cm" x="472.8" y="234.6" fill="#e0782a"/><use href="#cm" x="476.3" y="231.1" fill="#e0782a"/><use href="#dm" x="483.3" y="235.5" fill="#e0782a"/><use href="#cm" x="484.2" y="217.1" fill="#e0782a"/><use href="#cm" x="504.3" y="162.8" fill="#e0782a"/><use href="#cm" x="502.6" y="166.3" fill="#e0782a"/><use href="#cm" x="503.4" y="161.9" fill="#e0782a"/><use href="#cm" x="507.8" y="162.8" fill="#e0782a"/><use href="#cm" x="506.9" y="176.8" fill="#e0782a"/><use href="#cm" x="502.6" y="169.8" fill="#e0782a"/><use href="#cm" x="469.3" y="169.8" fill="#64e62a"/><use href="#cm" x="486.8" y="227.6" fill="#64e62a"/><use href="#cm" x="501.7" y="167.2" fill="#64e62a"/><use href="#cm" x="463.1" y="176.8" fill="#64e62a"/><use href="#tm" x="471.9" y="175.0" fill="#0c0a78"/><use href="#tm" x="481.5" y="174.2" fill="#0c0a78"/><use href="#tm" x="485.0" y="173.3" fill="#e3101a"/><use href="#tm" x="453.5" y="163.7" fill="#e3101a"/><use href="#tm" x="245.5" y="241.9" fill="#e0782a"/><use href="#tm" x="269.6" y="240.4" fill="#e0782a"/><use href="#tm" x="292.3" y="239.7" fill="#e0782a"/><use href="#dm" x="222.2" y="308.3" fill="#0c0a78"/><use href="#tm" x="309.8" y="247.0" fill="#0c0a78"/><use href="#tm" x="309.3" y="249.9" fill="#0c0a78"/><use href="#tm" x="311.2" y="257.2" fill="#0c0a78"/><use href="#tm" x="287.2" y="258.0" fill="#0c0a78"/><use href="#tm" x="292.3" y="258.7" fill="#0c0a78"/><use href="#tm" x="281.3" y="264.5" fill="#0c0a78"/><use href="#tm" x="265.3" y="270.4" fill="#0c0a78"/><use href="#dm" x="263.8" y="279.1" fill="#0c0a78"/><use href="#dm" x="269.6" y="285.7" fill="#0c0a78"/><use href="#dm" x="264.5" y="289.3" fill="#0c0a78"/><use href="#dm" x="278.4" y="284.2" fill="#0c0a78"/><use href="#dm" x="279.9" y="287.9" fill="#0c0a78"/><use href="#dm" x="278.4" y="294.5" fill="#0c0a78"/><use href="#dm" x="282.8" y="297.4" fill="#0c0a78"/><use href="#dm" x="285.7" y="301.8" fill="#0c0a78"/><use href="#dm" x="288.6" y="304.7" fill="#0c0a78"/><use href="#dm" x="291.5" y="302.5" fill="#0c0a78"/><use href="#dm" x="293.7" y="300.3" fill="#0c0a78"/><use href="#dm" x="287.2" y="306.1" fill="#0c0a78"/><use href="#cm" x="299.6" y="273.3" fill="#e0782a"/><use href="#tm" x="295.9" y="271.1" fill="#0c0a78"/><use href="#tm" x="298.8" y="277.7" fill="#0c0a78"/><use href="#tm" x="303.2" y="274.7" fill="#0c0a78"/><use href="#tm" x="307.6" y="268.2" fill="#0c0a78"/><use href="#tm" x="311.2" y="266.7" fill="#0c0a78"/><use href="#tm" x="314.9" y="265.3" fill="#0c0a78"/><use href="#tm" x="309.1" y="271.1" fill="#0c0a78"/><use href="#tm" x="307.6" y="275.5" fill="#0c0a78"/><use href="#tm" x="309.8" y="278.4" fill="#0c0a78"/><use href="#tm" x="310.5" y="281.3" fill="#0c0a78"/><use href="#tm" x="314.9" y="278.4" fill="#0c0a78"/><use href="#tm" x="316.4" y="281.3" fill="#0c0a78"/><use href="#tm" x="309.1" y="284.2" fill="#0c0a78"/><use href="#tm" x="313.4" y="285.0" fill="#0c0a78"/><use href="#tm" x="293.7" y="287.2" fill="#0c0a78"/><use href="#tm" x="297.4" y="284.2" fill="#0c0a78"/><use href="#tm" x="299.6" y="288.6" fill="#0c0a78"/><use href="#tm" x="308.3" y="292.3" fill="#0c0a78"/><use href="#tm" x="316.4" y="292.3" fill="#0c0a78"/><use href="#tm" x="312.0" y="304.7" fill="#0c0a78"/><use href="#tm" x="313.4" y="307.6" fill="#0c0a78"/><use href="#tm" x="311.2" y="313.4" fill="#0c0a78"/><use href="#tm" x="309.9" y="247.0" fill="#0c0a78"/><use href="#tm" x="309.5" y="249.9" fill="#0c0a78"/><use href="#tm" x="311.4" y="257.7" fill="#0c0a78"/><use href="#dm" x="329.9" y="245.5" fill="#0c0a78"/><use href="#dm" x="329.9" y="248.5" fill="#0c0a78"/><use href="#cm" x="329.9" y="254.3" fill="#e3101a"/><use href="#cm" x="331.4" y="261.6" fill="#e3101a"/><use href="#dm" x="330.7" y="258.0" fill="#0c0a78"/><use href="#dm" x="335.0" y="262.3" fill="#0c0a78"/><use href="#dm" x="338.0" y="262.3" fill="#0c0a78"/><use href="#tm" x="333.6" y="265.3" fill="#0c0a78"/><use href="#dm" x="327.4" y="269.6" fill="#0c0a78"/><use href="#dm" x="327.0" y="274.0" fill="#0c0a78"/><use href="#dm" x="333.6" y="272.6" fill="#0c0a78"/><use href="#tm" x="314.6" y="265.3" fill="#0c0a78"/><use href="#tm" x="310.9" y="266.7" fill="#0c0a78"/><use href="#tm" x="307.3" y="268.2" fill="#0c0a78"/><use href="#tm" x="302.9" y="275.5" fill="#0c0a78"/><use href="#tm" x="310.2" y="274.7" fill="#0c0a78"/><use href="#tm" x="309.5" y="278.4" fill="#0c0a78"/><use href="#tm" x="314.6" y="276.9" fill="#0c0a78"/><use href="#tm" x="316.8" y="279.1" fill="#0c0a78"/><use href="#tm" x="319.0" y="275.5" fill="#0c0a78"/><use href="#tm" x="320.4" y="274.0" fill="#0c0a78"/><use href="#tm" x="321.9" y="278.4" fill="#0c0a78"/><use href="#tm" x="322.6" y="281.3" fill="#0c0a78"/><use href="#tm" x="320.4" y="282.0" fill="#0c0a78"/><use href="#tm" x="314.6" y="282.8" fill="#0c0a78"/><use href="#tm" x="310.2" y="282.8" fill="#0c0a78"/><use href="#tm" x="310.9" y="285.7" fill="#0c0a78"/><use href="#tm" x="318.2" y="286.4" fill="#0c0a78"/><use href="#tm" x="300.7" y="288.6" fill="#0c0a78"/><use href="#tm" x="308.8" y="291.5" fill="#0c0a78"/><use href="#tm" x="316.1" y="292.3" fill="#0c0a78"/><use href="#tm" x="321.9" y="293.7" fill="#0c0a78"/><use href="#tm" x="323.4" y="295.9" fill="#0c0a78"/><use href="#tm" x="321.2" y="298.8" fill="#0c0a78"/><use href="#tm" x="323.4" y="301.0" fill="#0c0a78"/><use href="#tm" x="333.6" y="289.3" fill="#0c0a78"/><use href="#tm" x="333.6" y="293.0" fill="#0c0a78"/><use href="#tm" x="334.3" y="295.9" fill="#0c0a78"/><use href="#tm" x="335.0" y="299.6" fill="#0c0a78"/><use href="#tm" x="336.5" y="301.8" fill="#0c0a78"/><use href="#tm" x="337.2" y="303.9" fill="#0c0a78"/><use href="#tm" x="339.4" y="304.7" fill="#0c0a78"/><use href="#dm" x="340.9" y="305.4" fill="#0c0a78"/><use href="#dm" x="346.7" y="285.7" fill="#0c0a78"/><use href="#dm" x="350.4" y="287.9" fill="#0c0a78"/><use href="#dm" x="353.3" y="288.6" fill="#0c0a78"/><use href="#dm" x="348.2" y="290.1" fill="#0c0a78"/><use href="#dm" x="348.2" y="301.8" fill="#0c0a78"/><use href="#tm" x="348.9" y="273.3" fill="#0c0a78"/><use href="#tm" x="351.1" y="275.2" fill="#0c0a78"/><use href="#tm" x="365.0" y="282.8" fill="#0c0a78"/><use href="#tm" x="375.2" y="293.0" fill="#0c0a78"/><use href="#tm" x="394.2" y="282.0" fill="#0c0a78"/><use href="#tm" x="354.7" y="309.1" fill="#0c0a78"/><use href="#tm" x="312.4" y="306.1" fill="#0c0a78"/><use href="#tm" x="313.1" y="308.3" fill="#0c0a78"/><use href="#tm" x="312.4" y="313.4" fill="#0c0a78"/><use href="#tm" x="331.4" y="315.6" fill="#0c0a78"/><use href="#cm" x="472.4" y="18.4" fill="#64e62a"/><use href="#tm" x="430.1" y="53.4" fill="#e0782a"/><use href="#cm" x="510.9" y="52.0" fill="#e0782a"/><use href="#cm" x="453.4" y="63.6" fill="#e0782a"/><use href="#dm" x="441.8" y="67.2" fill="#64e62a"/><use href="#cm" x="498.7" y="66.6" fill="#e0782a"/><use href="#cm" x="421.3" y="76.5" fill="#e0782a"/><use href="#cm" x="525.5" y="71.5" fill="#e0782a"/><use href="#cm" x="518.5" y="73.6" fill="#e0782a"/><use href="#cm" x="510.9" y="77.4" fill="#e0782a"/><use href="#cm" x="387.7" y="91.1" fill="#e0782a"/><use href="#cm" x="414.0" y="86.1" fill="#e0782a"/><use href="#dm" x="436.8" y="85.5" fill="#64e62a"/><use href="#cm" x="447.0" y="86.1" fill="#e0782a"/><use href="#cm" x="506.6" y="84.7" fill="#e0782a"/><use href="#cm" x="513.3" y="85.3" fill="#e0782a"/><use href="#cm" x="411.1" y="93.4" fill="#e0782a"/><use href="#cm" x="416.9" y="94.9" fill="#e0782a"/><use href="#cm" x="412.6" y="98.7" fill="#e0782a"/><use href="#cm" x="422.8" y="96.4" fill="#e0782a"/><use href="#dm" x="433.0" y="92.8" fill="#64e62a"/><use href="#cm" x="436.5" y="96.4" fill="#e0782a"/><use href="#cm" x="449.1" y="98.7" fill="#64e62a"/><use href="#cm" x="468.6" y="99.3" fill="#e0782a"/><use href="#cm" x="506.0" y="93.4" fill="#e0782a"/><use href="#dm" x="431.5" y="103.6" fill="#64e62a"/><use href="#cm" x="426.6" y="104.2" fill="#64e62a"/><use href="#cm" x="438.8" y="108.0" fill="#64e62a"/><use href="#cm" x="447.6" y="111.5" fill="#64e62a"/><use href="#cm" x="415.5" y="111.5" fill="#64e62a"/><use href="#cm" x="408.2" y="106.6" fill="#e0782a"/><use href="#cm" x="409.6" y="115.3" fill="#e0782a"/><use href="#dm" x="406.7" y="125.5" fill="#e0782a"/><use href="#cm" x="375.2" y="126.1" fill="#e0782a"/><use href="#cm" x="384.2" y="122.6" fill="#e0782a"/><use href="#cm" x="398.8" y="128.5" fill="#e0782a"/><use href="#cm" x="415.5" y="118.2" fill="#64e62a"/><use href="#cm" x="416.9" y="122.6" fill="#64e62a"/><use href="#dm" x="430.1" y="112.4" fill="#64e62a"/><use href="#cm" x="456.4" y="116.8" fill="#64e62a"/><use href="#dm" x="457.8" y="122.6" fill="#64e62a"/><use href="#cm" x="473.3" y="116.2" fill="#e0782a"/><use href="#cm" x="488.5" y="105.7" fill="#e0782a"/><use href="#cm" x="493.7" y="112.4" fill="#e0782a"/><use href="#cm" x="501.6" y="116.8" fill="#e0782a"/><use href="#cm" x="498.7" y="122.6" fill="#e0782a"/><use href="#cm" x="492.8" y="125.5" fill="#e0782a"/><use href="#cm" x="510.4" y="124.1" fill="#e0782a"/><use href="#cm" x="529.3" y="128.5" fill="#e0782a"/><use href="#cm" x="525.0" y="135.8" fill="#e0782a"/><use href="#cm" x="517.7" y="137.2" fill="#e0782a"/><use href="#cm" x="508.9" y="140.1" fill="#e0782a"/><use href="#cm" x="519.1" y="143.1" fill="#e0782a"/><use href="#cm" x="427.2" y="125.5" fill="#64e62a"/><use href="#cm" x="437.4" y="128.5" fill="#e0782a"/><use href="#cm" x="444.7" y="128.5" fill="#e0782a"/><use href="#cm" x="450.5" y="125.5" fill="#64e62a"/><use href="#cm" x="454.9" y="131.4" fill="#e0782a"/><use href="#cm" x="460.7" y="128.5" fill="#e0782a"/><use href="#cm" x="468.0" y="137.2" fill="#e0782a"/><use href="#cm" x="470.9" y="129.9" fill="#e0782a"/><use href="#cm" x="488.5" y="128.5" fill="#e0782a"/><use href="#cm" x="489.9" y="134.3" fill="#e0782a"/><use href="#cm" x="484.1" y="137.2" fill="#e0782a"/><use href="#cm" x="485.5" y="144.5" fill="#e0782a"/><use href="#tm" x="482.6" y="148.9" fill="#e0782a"/><use href="#cm" x="479.7" y="140.1" fill="#e0782a"/><use href="#cm" x="390.7" y="137.2" fill="#e0782a"/><use href="#cm" x="398.0" y="138.7" fill="#e0782a"/><use href="#cm" x="400.9" y="146.0" fill="#e0782a"/><use href="#cm" x="405.3" y="147.4" fill="#e0782a"/><use href="#cm" x="418.4" y="137.2" fill="#64e62a"/><use href="#cm" x="430.1" y="135.8" fill="#64e62a"/><use href="#cm" x="433.0" y="137.2" fill="#64e62a"/><use href="#cm" x="440.3" y="134.3" fill="#64e62a"/><use href="#cm" x="447.6" y="135.8" fill="#e0782a"/><use href="#cm" x="530.2" y="155.6" fill="#64e62a"/><use href="#tm" x="514.7" y="148.9" fill="#e0782a"/><use href="#cm" x="517.7" y="151.8" fill="#e0782a"/><use href="#cm" x="510.4" y="153.3" fill="#e0782a"/></g>
<g fill="none" stroke="#3442dc" stroke-width="1.15"><path d="M93.0,444.5L136.5,423.8L215.9,381.5L257.5,358.0L342.3,318.4"/><path d="M96.0,444.0L150.0,417.0"/><path d="M157.7,410.7C160.5,411.9 168.8,416.4 174.3,417.7C179.9,419.0 185.4,419.9 191.0,418.5C196.6,417.1 203.7,413.6 207.6,409.3C211.5,405.0 213.1,397.4 214.5,392.7C215.9,388.0 215.7,383.0 215.9,381.1"/><path d="M210.8,338.2L257.5,357.8"/><path d="M256.6,318.3C256.0,321.1 253.5,329.9 253.1,335.0C252.7,340.1 253.2,345.1 254.2,349.0C255.2,352.9 257.3,356.3 259.3,358.7C261.3,361.1 262.2,362.1 266.3,363.1C270.4,364.1 276.5,365.0 283.8,364.8C291.1,364.6 301.2,363.6 310.0,362.0C318.8,360.4 328.1,357.9 336.4,355.5C344.7,353.1 351.1,350.8 360.0,347.5C368.9,344.2 380.3,339.6 390.0,335.5C399.7,331.4 413.4,325.0 418.1,322.9"/><path d="M256.6,318.3L288.2,314.4"/><path d="M256.6,318.3L263.9,305.2"/><path d="M256.6,318.3C257.2,314.5 258.9,303.6 260.2,295.7C261.5,287.8 262.9,278.9 264.6,270.9C266.3,262.9 267.8,253.3 270.4,247.5C272.9,241.7 277.2,237.3 279.9,236.1C282.6,234.9 284.4,237.1 286.5,240.2C288.6,243.3 290.6,250.4 292.3,254.8C294.0,259.2 295.6,263.6 296.7,266.5C297.8,269.4 298.5,271.3 298.9,272.3"/><path d="M263.9,305.2C266.4,302.9 274.7,295.3 279.2,291.3C283.7,287.3 287.5,284.0 290.9,281.1C294.3,278.2 298.2,275.0 299.6,273.8"/><path d="M263.9,305.2C265.8,303.7 271.3,298.7 275.0,296.0C278.7,293.3 282.3,291.3 286.0,289.0C289.7,286.7 293.3,284.8 297.0,282.0C300.7,279.2 306.5,273.7 308.4,272.0"/><path d="M288.2,314.4C290.4,313.0 297.2,308.3 301.1,305.9C305.0,303.5 308.4,301.9 311.3,300.0C314.2,298.1 317.4,295.2 318.6,294.2"/><path d="M288.2,314.4C289.9,314.9 294.3,316.1 298.2,317.6C302.1,319.1 308.0,323.2 311.3,323.4C314.6,323.6 316.7,321.9 317.9,319.0C319.1,316.1 318.6,309.9 318.6,305.9C318.6,301.9 318.0,296.8 317.9,295.0"/><path d="M279.2,286.9C281.6,288.8 288.4,295.0 293.8,298.6C299.2,302.2 305.0,305.9 311.3,308.8C317.6,311.7 326.6,314.5 331.8,316.1C337.0,317.7 340.6,318.0 342.3,318.4"/><path d="M342.3,318.4L361.9,288.6"/><path d="M361.9,288.6L352.4,275.4"/><path d="M361.9,288.6L404.2,297.3"/><path d="M404.2,297.3L417.4,282.7"/><path d="M417.4,282.7L418.6,259.4"/><path d="M404.2,297.3L407.2,306.1"/><path d="M407.2,306.1L418.1,322.9"/><path d="M407.2,306.1C412.7,304.6 429.8,298.9 440.0,297.3C450.2,295.7 458.6,298.1 468.4,296.6C478.2,295.1 491.4,292.5 498.8,288.4C506.2,284.3 509.5,277.8 512.8,272.0C516.1,266.2 517.9,261.2 518.6,253.4C519.3,245.6 518.8,235.6 517.0,225.0C515.2,214.4 510.1,199.5 508.0,190.0C505.9,180.5 504.9,171.7 504.3,168.0"/><path d="M418.1,322.9C421.8,321.8 429.7,319.6 440.0,316.3C450.3,313.0 469.0,308.4 480.0,303.0C491.0,297.6 500.0,290.8 505.8,284.0C511.6,277.2 514.0,269.3 515.0,262.0C516.0,254.7 514.5,246.7 512.0,240.0C509.5,233.3 504.3,227.0 500.0,222.0C495.7,217.0 488.3,212.0 486.0,210.0"/><path d="M420.3,286.4C424.4,286.5 435.1,288.0 445.0,287.2C454.9,286.4 470.3,284.3 480.0,281.4C489.7,278.5 498.9,273.6 503.4,269.7C507.9,265.8 507.0,262.3 507.0,258.0C507.0,253.7 505.9,248.7 503.4,244.0C500.9,239.3 495.4,235.3 491.8,230.0C488.2,224.7 483.6,215.0 482.0,212.0"/><path d="M411.5,275.4C415.1,274.1 426.1,268.6 433.4,267.4C440.6,266.2 448.8,268.4 455.0,268.0C461.2,267.6 467.3,267.1 470.7,265.0C474.1,262.9 475.0,259.2 475.4,255.7C475.8,252.2 474.2,248.3 473.0,244.0C471.8,239.7 469.2,232.3 468.4,230.0"/><path d="M411.5,275.4C416.2,275.8 431.6,278.1 440.0,278.0C448.4,277.9 455.7,277.0 462.0,275.0C468.3,273.0 474.2,270.2 478.0,266.0C481.8,261.8 484.3,255.2 485.0,250.0C485.7,244.8 483.8,239.7 482.0,235.0C480.2,230.3 475.3,224.2 474.0,222.0"/><path d="M418.2,282.6L463.7,334.0L496.4,356.1"/><path d="M496.4,356.1C498.0,357.5 501.6,361.1 506.3,364.5C511.0,367.9 518.9,373.1 524.7,376.8C530.5,380.6 535.7,383.6 541.1,387.0C546.5,390.4 552.3,393.4 557.4,397.2C562.5,400.9 567.6,402.1 571.7,409.5C575.8,416.9 576.9,434.6 582.0,441.9C587.1,449.2 599.0,451.3 602.4,453.2"/><path d="M582.0,441.9C583.7,442.6 588.0,444.3 592.0,446.0C596.0,447.7 603.7,451.0 606.0,452.0"/><path d="M576.0,428.0C577.3,429.7 580.8,435.0 584.0,438.0C587.2,441.0 591.7,444.0 595.0,446.0C598.3,448.0 602.5,449.3 604.0,450.0"/><path d="M463.7,334.0C465.8,335.3 472.1,341.0 476.0,341.7C479.9,342.4 484.3,339.9 487.0,338.0C489.7,336.1 490.8,332.3 492.0,330.0C493.2,327.7 493.7,325.0 494.0,324.0"/><path d="M496.4,356.1C498.0,355.0 498.2,349.7 506.3,349.2C514.4,348.7 534.3,352.4 545.2,353.3C556.1,354.2 563.9,353.3 571.7,354.3C579.5,355.3 587.1,357.0 592.2,359.4C597.3,361.8 600.4,365.5 602.4,368.6C604.4,371.7 604.7,374.7 604.4,377.8C604.1,380.9 604.1,385.1 600.4,387.0C596.7,388.9 587.5,388.8 582.0,389.0C576.5,389.2 572.8,389.5 567.7,388.0C562.6,386.5 554.0,381.2 551.3,379.9"/><path d="M506.3,349.2C508.7,351.1 515.6,357.2 520.7,360.4C525.8,363.6 530.2,366.9 537.0,368.6C543.8,370.3 555.0,370.9 561.5,370.7C568.0,370.5 573.4,368.1 575.8,367.6"/><path d="M545.2,353.3C547.7,354.4 555.6,358.0 560.0,360.0C564.4,362.0 569.8,364.6 571.7,365.5"/><path d="M490.0,355.0C493.4,357.6 503.6,367.2 510.4,370.7C517.2,374.2 524.1,374.8 530.9,375.8C537.7,376.8 545.2,375.4 551.3,376.8C557.4,378.2 561.2,382.6 567.7,384.0C574.2,385.4 586.3,384.8 590.0,385.0"/><path d="M490.0,360.0C493.4,362.4 503.6,369.5 510.4,374.7C517.2,379.9 525.1,387.6 530.9,391.1C536.7,394.7 542.6,395.2 545.0,396.0"/><path d="M500.0,365.0C503.3,367.5 514.2,375.5 520.0,380.0C525.8,384.5 530.0,389.5 535.0,392.0C540.0,394.5 547.5,394.5 550.0,395.0"/><path d="M418.5,260.6C418.7,257.3 419.3,249.2 419.6,241.1C419.9,232.9 420.2,216.4 420.3,211.5"/><path d="M418.5,260.6C420.8,257.8 428.4,251.0 432.2,243.7C436.0,236.4 439.8,221.3 441.3,216.8"/><path d="M418.5,260.6C420.8,258.7 428.4,254.5 432.2,249.0C436.0,243.4 439.8,230.9 441.3,227.3"/><path d="M418.5,260.6C420.1,259.4 425.3,257.4 428.0,253.4C430.6,249.3 433.2,239.0 434.3,236.1"/><path d="M418.5,260.6C421.8,259.4 432.9,257.4 438.5,253.4C444.0,249.3 449.6,239.0 451.8,236.1"/><path d="M418.5,260.6C421.3,256.9 430.7,247.5 435.4,238.5C440.0,229.4 444.7,211.7 446.6,206.3"/><path d="M418.5,260.6C422.0,255.9 433.7,243.4 439.6,232.3C445.4,221.2 451.3,200.4 453.6,194.0"/><path d="M418.5,260.6C422.5,258.0 436.0,251.9 442.7,245.0C449.4,238.1 456.1,223.7 458.8,219.4"/><path d="M418.5,260.6C420.4,252.6 426.5,230.4 429.6,212.8C432.7,195.2 435.8,164.6 437.0,155.0"/><path d="M418.5,260.6C421.4,254.1 430.9,236.1 435.6,221.3C440.4,206.5 445.1,180.2 447.0,172.0"/><path d="M418.5,260.6C422.9,256.1 437.4,244.1 444.6,233.3C451.9,222.5 459.1,202.2 462.0,196.0"/><path d="M418.5,260.6C415.8,259.2 406.4,256.8 402.0,252.0C397.6,247.2 394.3,239.8 392.0,232.0C389.7,224.2 388.3,214.5 388.0,205.0C387.7,195.5 388.3,183.8 390.0,175.0C391.7,166.2 395.0,158.8 398.0,152.0C401.0,145.2 404.3,139.7 408.0,134.0C411.7,128.3 416.1,122.8 420.0,118.0C423.9,113.2 429.6,107.2 431.5,105.0"/><path d="M418.5,260.6C417.8,258.0 415.4,252.6 414.0,245.0C412.6,237.4 411.3,225.0 410.0,215.0C408.7,205.0 406.7,194.2 406.0,185.0C405.3,175.8 405.8,167.0 406.0,160.0C406.2,153.0 406.0,146.8 407.0,143.0C408.0,139.2 409.3,138.5 412.0,137.0C414.7,135.5 421.2,134.5 423.0,134.0"/><path d="M430.0,250.0C431.7,245.8 436.7,233.3 440.0,225.0C443.3,216.7 447.3,208.4 450.0,200.0C452.7,191.6 453.0,182.0 456.3,174.5C459.6,167.0 465.2,161.9 470.0,155.0C474.8,148.1 479.7,142.0 485.0,133.0C490.3,124.0 499.1,106.2 501.9,100.9"/><path d="M445.0,235.0C446.2,229.2 449.8,208.3 452.0,200.0C454.2,191.7 456.1,190.4 458.0,185.0C459.9,179.6 460.9,172.0 463.4,167.5C465.8,163.0 470.8,161.1 472.7,158.0C474.6,154.9 475.0,152.3 475.0,148.8C475.0,145.3 473.1,139.0 472.7,137.0"/><path d="M418.5,260.6C422.9,261.8 436.4,267.8 445.0,268.0C453.6,268.2 463.8,265.8 470.0,262.0C476.2,258.2 480.3,251.7 482.0,245.0C483.7,238.3 481.7,228.2 480.0,222.0C478.3,215.8 473.3,210.3 472.0,208.0"/><path d="M418.5,260.6C422.1,263.0 430.1,273.1 440.0,275.0C449.9,276.9 469.0,275.8 478.0,272.0C487.0,268.2 491.7,259.8 494.0,252.0C496.3,244.2 494.0,232.0 492.0,225.0C490.0,218.0 483.7,212.5 482.0,210.0"/><path d="M412.0,276.0C411.9,275.9 410.5,277.7 411.5,275.4C412.5,273.1 416.9,264.2 418.0,262.0"/><path d="M418.2,283.4L418.5,262.0"/><path d="M405.0,296.0L411.5,276.0"/></g>
<g><rect x="134.5" y="422.0" width="4" height="4" fill="none" stroke="#e070f0" stroke-width="0.8"/><rect x="141.0" y="418.5" width="4" height="4" fill="none" stroke="#e070f0" stroke-width="0.8"/><rect x="213.9" y="379.1" width="4" height="4" fill="none" stroke="#e070f0" stroke-width="0.8"/><rect x="255.5" y="355.8" width="4" height="4" fill="none" stroke="#e070f0" stroke-width="0.8"/><rect x="254.6" y="316.3" width="4" height="4" fill="none" stroke="#e070f0" stroke-width="0.8"/><rect x="261.9" y="303.2" width="4" height="4" fill="none" stroke="#e070f0" stroke-width="0.8"/><rect x="286.2" y="312.4" width="4" height="4" fill="none" stroke="#e070f0" stroke-width="0.8"/><rect x="340.3" y="316.4" width="4" height="4" fill="none" stroke="#e070f0" stroke-width="0.8"/><rect x="359.9" y="286.6" width="4" height="4" fill="none" stroke="#e070f0" stroke-width="0.8"/><rect x="402.2" y="295.3" width="4" height="4" fill="none" stroke="#e070f0" stroke-width="0.8"/><rect x="405.2" y="304.1" width="4" height="4" fill="none" stroke="#e070f0" stroke-width="0.8"/><rect x="416.1" y="320.9" width="4" height="4" fill="none" stroke="#e070f0" stroke-width="0.8"/><rect x="417.0" y="284.4" width="4" height="4" fill="none" stroke="#e070f0" stroke-width="0.8"/><rect x="409.5" y="273.4" width="4" height="4" fill="none" stroke="#e070f0" stroke-width="0.8"/><rect x="403.0" y="294.0" width="4" height="4" fill="none" stroke="#e070f0" stroke-width="0.8"/><rect x="416.2" y="281.4" width="4" height="4" fill="none" stroke="#e070f0" stroke-width="0.8"/><rect x="461.7" y="332.0" width="4" height="4" fill="none" stroke="#e070f0" stroke-width="0.8"/><rect x="494.4" y="354.1" width="4" height="4" fill="none" stroke="#e070f0" stroke-width="0.8"/><rect x="504.3" y="347.2" width="4" height="4" fill="none" stroke="#e070f0" stroke-width="0.8"/><rect x="543.2" y="351.3" width="4" height="4" fill="none" stroke="#e070f0" stroke-width="0.8"/><rect x="495.2" y="354.4" width="4" height="4" fill="none" stroke="#e070f0" stroke-width="0.8"/><circle cx="417.4" cy="282.7" r="2.2" fill="#3020a0"/><circle cx="419" cy="260" r="2.5" fill="#a040f0" opacity="0.6"/></g>
<g class="nl"><text x="88.3" y="442.9" text-anchor="middle">1.</text><text x="118.8" y="420.7" text-anchor="middle">2.</text><text x="125.5" y="417.1" text-anchor="middle">3.</text><text x="138.3" y="419.9" text-anchor="middle">4.</text><text x="168.2" y="402.7" text-anchor="middle">5.</text><text x="224.6" y="334.5" text-anchor="middle">6.</text><text x="286.4" y="278.4" text-anchor="middle">7.</text><text x="300.0" y="271.1" text-anchor="middle">8.</text><text x="324.1" y="263.8" text-anchor="middle">9.</text><text x="334.5" y="289.7" text-anchor="middle">10.</text><text x="328.3" y="310.5" text-anchor="middle">11</text><text x="449.0" y="101.4" text-anchor="middle">21.</text><text x="519.1" y="97.8" text-anchor="middle">31.</text><text x="430.0" y="131.7" text-anchor="middle">15.</text><text x="471.0" y="133.2" text-anchor="middle">29.</text><text x="453.4" y="151.6" text-anchor="middle">22.</text><text x="520.6" y="166.2" text-anchor="middle">32.</text><text x="448.9" y="174.2" text-anchor="middle">19.</text><text x="429.6" y="181.4" text-anchor="middle">17.</text><text x="471.0" y="192.4" text-anchor="middle">27.</text><text x="458.3" y="197.9" text-anchor="middle">24.</text><text x="479.7" y="208.5" text-anchor="middle">28.</text><text x="452.6" y="210.4" text-anchor="middle">20.</text><text x="466.0" y="213.4" text-anchor="middle">26.</text><text x="418.4" y="215.8" text-anchor="middle">13</text><text x="446.1" y="220.8" text-anchor="middle">16.</text><text x="463.6" y="223.7" text-anchor="middle">25.</text><text x="447.2" y="233.0" text-anchor="middle">18.</text><text x="439.6" y="240.6" text-anchor="middle">14.</text><text x="457.6" y="239.3" text-anchor="middle">23.</text><text x="509.5" y="321.2" text-anchor="middle">30.</text><text x="576.0" y="377.1" text-anchor="middle">35.</text><text x="593.0" y="373.4" text-anchor="middle">39.</text><text x="593.0" y="388.6" text-anchor="middle">38.</text><text x="530.5" y="395.2" text-anchor="middle">33.</text><text x="556.0" y="395.2" text-anchor="middle">34.</text><text x="618.5" y="394.7" text-anchor="middle">41.</text><text x="602.5" y="432.3" text-anchor="middle">37.</text><text x="610.3" y="447.4" text-anchor="middle">40.</text><text x="630.0" y="452.6" text-anchor="middle">42.</text><text x="366.3" y="277" text-anchor="middle" class="bi">12.</text><text x="561" y="446.3" text-anchor="middle" class="bi">36.</text></g>
<g><rect x="66.6" y="0.5" width="617.9" height="505.8" fill="none" stroke="#333" stroke-width="1"/><line x1="66.6" y1="506.3" x2="66.6" y2="501" stroke="#333"/><line x1="66.6" y1="0.5" x2="66.6" y2="5.5" stroke="#333"/><line x1="155.1" y1="506.3" x2="155.1" y2="501" stroke="#333"/><line x1="155.1" y1="0.5" x2="155.1" y2="5.5" stroke="#333"/><line x1="243.5" y1="506.3" x2="243.5" y2="501" stroke="#333"/><line x1="243.5" y1="0.5" x2="243.5" y2="5.5" stroke="#333"/><line x1="331.9" y1="506.3" x2="331.9" y2="501" stroke="#333"/><line x1="331.9" y1="0.5" x2="331.9" y2="5.5" stroke="#333"/><line x1="420.4" y1="506.3" x2="420.4" y2="501" stroke="#333"/><line x1="420.4" y1="0.5" x2="420.4" y2="5.5" stroke="#333"/><line x1="508.9" y1="506.3" x2="508.9" y2="501" stroke="#333"/><line x1="508.9" y1="0.5" x2="508.9" y2="5.5" stroke="#333"/><line x1="597.3" y1="506.3" x2="597.3" y2="501" stroke="#333"/><line x1="597.3" y1="0.5" x2="597.3" y2="5.5" stroke="#333"/><line x1="66.6" y1="506.3" x2="71.6" y2="506.3" stroke="#333"/><line x1="684.5" y1="506.3" x2="679.5" y2="506.3" stroke="#333"/><line x1="66.6" y1="417.9" x2="71.6" y2="417.9" stroke="#333"/><line x1="684.5" y1="417.9" x2="679.5" y2="417.9" stroke="#333"/><line x1="66.6" y1="329.4" x2="71.6" y2="329.4" stroke="#333"/><line x1="684.5" y1="329.4" x2="679.5" y2="329.4" stroke="#333"/><line x1="66.6" y1="241.0" x2="71.6" y2="241.0" stroke="#333"/><line x1="684.5" y1="241.0" x2="679.5" y2="241.0" stroke="#333"/><line x1="66.6" y1="152.5" x2="71.6" y2="152.5" stroke="#333"/><line x1="684.5" y1="152.5" x2="679.5" y2="152.5" stroke="#333"/><line x1="66.6" y1="64.1" x2="71.6" y2="64.1" stroke="#333"/><line x1="684.5" y1="64.1" x2="679.5" y2="64.1" stroke="#333"/></g>
<g class="tk"><text x="66.6" y="522.6" text-anchor="middle">0</text><text x="155.1" y="522.6" text-anchor="middle">0.01</text><text x="243.5" y="522.6" text-anchor="middle">0.02</text><text x="331.9" y="522.6" text-anchor="middle">0.03</text><text x="420.4" y="522.6" text-anchor="middle">0.04</text><text x="508.9" y="522.6" text-anchor="middle">0.05</text><text x="597.3" y="522.6" text-anchor="middle">0.06</text><text x="62.6" y="511.9" text-anchor="end">0</text><text x="62.6" y="423.5" text-anchor="end">0.01</text><text x="62.6" y="335.0" text-anchor="end">0.02</text><text x="62.6" y="246.6" text-anchor="end">0.03</text><text x="62.6" y="158.1" text-anchor="end">0.04</text><text x="62.6" y="69.7" text-anchor="end">0.05</text></g>
<g class="lg"><rect x="72.5" y="6.6" width="134.8" height="115.6" fill="#fff" stroke="#333" stroke-width="1"/><path d="M96.5,10.1L101,16L96.5,21.9L92,16Z" fill="none" stroke="#333" stroke-width="0.9"/><path d="M96.5,26.5L101.6,35L91.4,35Z" fill="none" stroke="#333" stroke-width="0.9"/><circle cx="96.3" cy="47.9" r="4.3" fill="none" stroke="#333" stroke-width="0.9"/><rect x="90.9" y="58.8" width="11.2" height="10.9" fill="#ff0000"/><rect x="90.9" y="74.5" width="11.2" height="10.9" fill="#00007f"/><rect x="90.9" y="90.5" width="11.2" height="10.9" fill="#5df70a"/><rect x="90.9" y="106.7" width="11.2" height="10.9" fill="#ff7a0a"/><text x="117.6" y="20.8">Human</text><text x="117.6" y="36.8">Swine</text><text x="117.6" y="52.7">Other Hosts</text><text x="117.6" y="68.6">H3N2</text><text x="117.6" y="84.6">H1N1</text><text x="117.6" y="100.5">H5N1</text><text x="117.6" y="116.5">Other Subtypes</text></g>
<text x="292.3" y="541.5" style="font-size:13.5px;font-weight:bold">First Principal Coordinate</text>
<text transform="translate(30.7,253.6) rotate(-90)" text-anchor="middle" style="font-size:13.5px;font-weight:bold">Second Principal Coordinate</text>
<text x="-0.4" y="18.8" style="font-size:16.5px">A</text>
<text x="0.3" y="585.1" style="font-size:16.5px">B</text>
<g class="tr">
<path d="M120.5,632.6V798.5M120.5,632.6H133.8M120.5,657.5799999999999H126.5M120.5,798.5H136.5M133.8,620.5V645.3399999999999M133.8,620.5H170.4M133.8,645.3399999999999H176.8M170.4,608.0V633.1M170.4,608.0H188.5M170.4,633.1H192.9M188.5,594.8V620.86M188.5,594.8H219.7M188.5,620.86H224.0M219.7,581.1V608.62M219.7,581.1H222.6M219.7,608.62H230.3M222.6,571.9V590.1M222.6,571.9H238.7M222.6,590.1H226.3M226.3,584.14V596.38M226.3,584.14H234.3M226.3,596.38H244.2M136.5,716.9V879.4M136.5,716.9H140.6M136.5,879.4H143.5M140.6,704.8V731.02M140.6,704.8H148.2M140.6,731.02H211.5M148.2,692.0V718.78M148.2,692.0H245.5M148.2,718.78H242.0M245.5,678.4V706.54M245.5,678.4H252.1M245.5,706.54H269.3M252.1,669.8199999999999V687.4M252.1,669.8199999999999H308.7M252.1,687.4H265.6M265.6,682.06V694.3M265.6,682.06H290.3M265.6,694.3H280.0M143.5,799.3V960.0M143.5,799.3H145.6M143.5,960.0H145.5M145.6,759.2V839.1M145.6,759.2H152.3M145.6,839.1H148.4M152.3,750.2V767.74M152.3,750.2H195.3M152.3,767.74H229.6M195.3,743.26V755.5M195.3,743.26H214.6M195.3,755.5H232.6M148.4,806.4V871.0M148.4,806.4H150.5M148.4,871.0H150.5M150.5,795.4V816.7M150.5,795.4H153.4M150.5,816.7H160.7M153.4,786.2V804.46M153.4,786.2H155.0M153.4,804.46H199.9M155.0,779.98V792.22M155.0,779.98H170.5M155.0,792.22H178.9M150.5,835.4V895.5M150.5,835.4H156.3M150.5,859.6H152.4M150.5,895.5H152.3M156.3,828.94V841.1800000000001M156.3,828.94H215.1M156.3,841.1800000000001H192.9M152.4,853.42V865.66M152.4,853.42H167.6M152.4,865.66H158.2M152.3,877.9V913.1M152.3,877.9H176.9M152.3,913.1H171.7M171.7,899.5V926.8599999999999M171.7,899.5H176.5M171.7,926.8599999999999H187.4M176.5,890.14V907.9M176.5,890.14H211.9M176.5,907.9H178.0M178.0,902.38V914.62M178.0,902.38H196.8M178.0,914.62H182.3M145.5,939.0999999999999V981.6M145.5,939.0999999999999H230.6M145.5,981.6H170.0M170.0,951.3399999999999V1011.0M170.0,951.3399999999999H187.9M170.0,1011.0H185.0M185.0,981.3V1041.5M185.0,981.3H195.5M185.0,1041.5H189.6M195.5,969.1V993.5M195.5,969.1H211.2M195.5,993.5H199.4M211.2,963.5799999999999V975.8199999999999M211.2,963.5799999999999H216.0M211.2,975.8199999999999H226.5M199.4,988.06V1000.3M199.4,988.06H204.4M199.4,1000.3H209.6M189.6,1019.8V1063.1M189.6,1019.8H206.4M189.6,1063.1H244.2M206.4,1012.54V1024.78M206.4,1012.54H226.8M206.4,1024.78H241.2M244.2,1037.02V1073.74M244.2,1037.02H254.0M244.2,1049.26H249.7" fill="none" stroke="#606060" stroke-width="1"/>
<text x="239.5" y="574.6">2. A/Illinois/UR06-0088/2007(H1N1)</text><text x="235.0" y="586.8">3. A/Canterbury/01/2001(H1N1)</text><text x="245.0" y="599.1">1. A/New York/302/2001(H1N1)</text><text x="231.0" y="611.3">4. A/Managua/3180.01/2008(H1N1)</text><text x="224.6" y="623.6">5. A/Siena/4/1987(H1N1)</text><text x="193.6" y="635.8">6. A/Albany/12/1951(H1N1)</text><text x="177.5" y="648.0">8. A/Phila/1935(H1N1)</text><text x="127.7" y="660.3" class="bi">12. A/Brevig Mission/1/1918(H1N1)</text><text x="309.6" y="672.5">7. A/swine/Tianjin/1/2004(H1N2)</text><text x="291.0" y="684.8">10. A/swine/Skane/1321/1983(H1N1)</text><text x="281.0" y="697.0">11. A/swine/Alberta/56626/03(H1N1)</text><text x="270.3" y="709.2">9. A/swine/Wisconsin/1/1971(H1N1)</text><text x="242.9" y="721.5">13. A/swine/Ratchaburi/NIAH59/2004(H3N2)</text><text x="212.5" y="733.7">24. A/swine/Spain/33601/2001(H3N2)</text><text x="215.6" y="746.0">29. A/Chicken/Beijing/1/94(H9N2)</text><text x="233.6" y="758.2">31. A/chicken/Beijing/8/98(H9N2)</text><text x="230.6" y="770.4">21. A/Hong Kong/483/1997(H5N1)</text><text x="171.5" y="782.7">25. A/fowl/Dobson/1927(H7N7)</text><text x="179.9" y="794.9">26. A/turkey/England/1969(H3N2)</text><text x="200.9" y="807.2">28. A/Korea/KBNP-0028/2000(H9N2)</text><text x="161.7" y="819.4">23. A/northern shoveler/California/HKWF1367/2007(H3N7)</text><text x="216.1" y="831.6">27. A/chicken/FL/25717/1993(H5N2)</text><text x="193.9" y="843.9">16. A/duck/Taiwan/WB459/04(H6N5)</text><text x="168.6" y="856.1">18. A/Pekin robin/California/30412/1994(H7N1)</text><text x="159.2" y="868.4">14. A/whistling swan/Shimone/499/1983(H5N3)</text><text x="177.9" y="880.6">20. A/sanderling/New Jersey/148/2006(H7N3)</text><text x="212.9" y="892.8">15. A/Muscovy duck/Vietnam/1455/2006(H5N1)</text><text x="197.8" y="905.1">22. A/duck/Hubei/wp/2003(H5N1)</text><text x="183.3" y="917.3">17. A/chicken/Hong Kong/409.1/2002(H5N1)</text><text x="188.4" y="929.6">19. A/duck/Vietnam/38/2007(H5N1)</text><text x="231.6" y="941.8">32. A/equine/Italy/1062/1991(H3N8)</text><text x="188.9" y="954.0">30. A/Memphis/101/1974(H3N2)</text><text x="217.0" y="966.3">35. A/Canterbury/200/2004(H3N2)</text><text x="227.5" y="978.5">38. A/Sendai-H/F005/2006(H3N2)</text><text x="205.4" y="990.8">33. A/New York/282/1999(H3N2)</text><text x="210.6" y="1003.0">34. A/New York/502/1998(H3N2)</text><text x="227.8" y="1015.2">39. A/swine/Minnesota/64585/2006(H1N2)</text><text x="242.2" y="1027.5">41. A/swine/Oklahoma/032726/2008(H1N2)</text><text x="255.0" y="1039.7">42. A/Zhejiang/2/2009(H1N1)</text><text x="250.2" y="1052.0">40. A/Myanmar/JP90/2009(H1N1)</text><text x="245.2" y="1064.2" class="bi">36. A/California/04/2009(H1N1)</text><text x="245.2" y="1076.4">37. A/New York/1682/2009(H1N1)</text><text x="152.0" y="616.1" text-anchor="middle">100</text><text x="196.9" y="687.8" text-anchor="middle">100</text><text x="173.8" y="745.9" text-anchor="middle">100</text><text x="161.8" y="909.1" text-anchor="middle">96</text><text x="157.1" y="977.1" text-anchor="middle">95</text><text x="198.1" y="1015.9" text-anchor="middle">99</text><text x="216.8" y="1059.9" text-anchor="middle">100</text>
<path d="M467.2,566.4C470.2,566.4 471.2,567.4 471.2,569.4V599.0C471.2,601.0 472.2,602.0 474.2,602.0C472.2,602.0 471.2,603.0 471.2,605.0V634.3C471.2,636.3 470.2,637.3 467.2,637.3" fill="none" stroke="#333" stroke-width="0.9"/><text x="475.6" y="605.2" class="gl">Human H1N1</text><path d="M467.2,637.3C470.2,637.3 471.2,638.3 471.2,640.3V641.7C471.2,643.7 472.2,644.7 474.2,644.7C472.2,644.7 471.2,645.7 471.2,647.7V647.5C471.2,649.5 470.2,650.5 467.2,650.5" fill="none" stroke="#333" stroke-width="0.9"/><text x="475.6" y="647.9" class="gl">Early Human</text><path d="M467.2,663.6C470.2,663.6 471.2,664.6 471.2,666.6V684.3C471.2,686.3 472.2,687.3 474.2,687.3C472.2,687.3 471.2,688.3 471.2,690.3V707.9C471.2,709.9 470.2,710.9 467.2,710.9" fill="none" stroke="#333" stroke-width="0.9"/><text x="475.6" y="690.5" class="gl">Classical Swine</text><path d="M467.2,738.1C470.2,738.1 471.2,739.1 471.2,741.1V832.4C471.2,834.4 472.2,835.4 474.2,835.4C472.2,835.4 471.2,836.4 471.2,838.4V928.6C471.2,930.6 470.2,931.6 467.2,931.6" fill="none" stroke="#333" stroke-width="0.9"/><text x="475.6" y="838.6" class="gl">Avian</text><path d="M467.2,931.6C470.2,931.6 471.2,932.6 471.2,934.6V935.3C471.2,937.3 472.2,938.3 474.2,938.3C472.2,938.3 471.2,939.3 471.2,941.3V942.8C471.2,944.8 470.2,945.8 467.2,945.8" fill="none" stroke="#333" stroke-width="0.9"/><text x="475.6" y="941.5" class="gl">Equine</text><path d="M467.2,945.8C470.2,945.8 471.2,946.8 471.2,948.8V1009.7C471.2,1011.7 472.2,1012.7 474.2,1012.7C472.2,1012.7 471.2,1013.7 471.2,1015.7V1076.6C471.2,1078.6 470.2,1079.6 467.2,1079.6" fill="none" stroke="#333" stroke-width="0.9"/><text x="475.6" y="1015.9" class="gl">Human H3N2</text><path d="M119.7,1082.6V1085.1H158.7V1082.6" fill="none" stroke="#555" stroke-width="0.9"/><text x="119.5" y="1093.6" class="sb">0.0</text><text x="158.4" y="1093.6" class="sb">0.01</text>
</g>
</svg>
</body></html>
